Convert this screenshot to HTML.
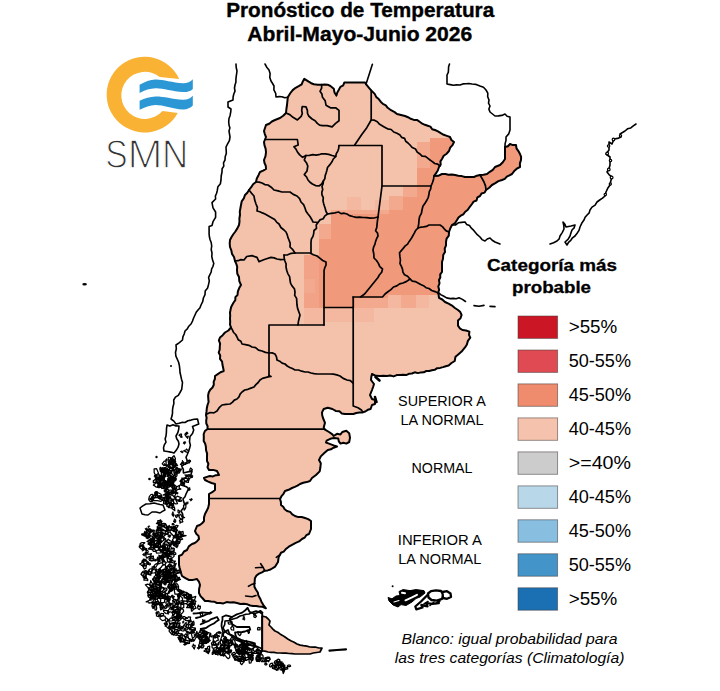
<!DOCTYPE html>
<html><head><meta charset="utf-8"><title>Pronóstico de Temperatura</title>
<style>html,body{margin:0;padding:0;background:#fff}body{width:720px;height:691px;overflow:hidden;font-family:"Liberation Sans",sans-serif}svg{display:block;font-family:"Liberation Sans",sans-serif}</style></head>
<body>
<svg width="720" height="691" viewBox="0 0 720 691">
<rect width="720" height="691" fill="#fff"/>
<defs><clipPath id="ac"><path d="M287.8,97.3 L290.4,93.0 L292.7,90.1 L295.6,87.8 L298.7,86.1 L301.7,84.3 L302.8,81.4 L304.3,78.8 L308.7,81.7 L311.2,83.2 L313.9,84.3 L317.8,84.7 L321.7,84.7 L324.7,84.4 L327.6,84.7 L330.4,86.0 L333.8,88.7 L334.5,92.4 L336.4,95.6 L337.3,92.4 L339.0,89.5 L340.4,86.9 L343.2,85.4 L344.3,82.6 L365.1,82.6 L366.8,85.2 L369.0,87.8 L371.2,90.4 L374.7,93.9 L376.2,96.9 L378.7,99.1 L380.7,101.7 L382.9,103.9 L385.8,105.3 L387.7,107.8 L391.0,110.2 L394.6,112.1 L397.0,114.0 L400.0,114.7 L405.0,116.0 L408.0,117.2 L410.8,118.8 L413.9,119.9 L417.3,120.1 L420.0,122.0 L422.3,123.7 L424.9,124.8 L427.7,125.7 L430.4,126.6 L432.2,129.2 L435.0,130.0 L438.0,131.4 L440.8,133.2 L443.7,134.8 L446.8,135.9 L450.0,137.0 L451.4,140.0 L454.0,142.0 L452.5,145.1 L450.2,147.7 L449.0,151.0 L446.7,153.7 L443.7,155.8 L442.0,159.0 L440.4,161.4 L440.7,164.6 L439.0,167.0 L437.9,170.3 L436.1,173.2 L434.0,176.0 L438.2,175.8 L442.0,174.0 L445.3,174.1 L448.5,174.7 L451.8,174.4 L455.0,175.0 L458.3,175.7 L461.7,176.1 L465.0,177.0 L474.0,177.0 L476.9,175.7 L480.0,175.0 L483.5,174.7 L487.0,174.0 L489.8,171.8 L492.8,169.9 L495.0,167.0 L500.0,165.0 L502.8,162.2 L505.0,159.0 L505.0,147.0 L507.9,146.2 L510.0,144.0 L512.9,145.1 L516.0,145.0 L516.5,148.4 L518.4,151.1 L520.0,154.0 L521.1,156.9 L521.0,160.0 L519.9,163.4 L520.0,167.0 L516.8,168.7 L514.2,171.1 L512.0,174.0 L509.4,175.4 L506.8,176.7 L504.8,178.9 L502.0,180.0 L498.4,181.1 L495.3,183.2 L492.0,185.0 L489.2,187.8 L486.0,190.0 L484.6,192.6 L481.5,193.5 L480.0,196.0 L477.4,197.4 L476.5,200.5 L473.6,201.6 L472.0,204.0 L469.8,206.8 L467.8,209.7 L465.0,212.0 L463.3,214.3 L460.7,215.7 L458.5,217.5 L457.0,220.0 L455.1,223.1 L452.0,225.0 L450.3,228.4 L449.0,232.0 L448.8,235.6 L446.6,238.6 L446.0,242.0 L446.0,245.4 L444.7,248.6 L445.0,252.0 L443.2,255.1 L443.0,258.7 L442.0,262.0 L442.0,272.0 L440.2,274.4 L440.3,277.5 L439.0,280.0 L439.5,283.3 L438.3,286.5 L439.1,289.8 L438.0,293.0 L438.5,294.0 L439.0,297.8 L442.3,299.5 L445.0,302.0 L448.6,303.7 L452.0,305.6 L454.9,308.0 L458.0,310.0 L460.3,312.1 L461.6,315.0 L460.5,318.2 L458.0,320.4 L458.0,325.6 L459.8,328.3 L462.5,330.0 L466.0,330.5 L469.4,331.6 L469.0,334.8 L470.3,337.7 L467.9,340.9 L466.8,344.7 L465.2,347.1 L463.4,349.3 L461.6,351.6 L458.5,354.2 L455.5,356.8 L454.7,361.0 L451.5,363.0 L448.6,365.5 L445.8,366.2 L443.0,367.1 L440.2,367.9 L437.2,368.2 L434.7,369.8 L431.9,370.3 L429.2,371.0 L426.3,371.0 L423.7,372.3 L420.8,372.4 L417.9,373.1 L414.8,372.3 L411.9,373.5 L408.9,373.8 L406.1,375.1 L403.0,374.8 L400.0,375.0 L396.7,375.1 L393.6,376.4 L390.2,375.5 L387.0,376.0 L383.5,375.8 L380.0,376.0 L375.8,375.8 L372.0,374.0 L371.3,377.0 L371.0,380.0 L374.0,384.0 L373.1,387.0 L372.0,390.0 L370.0,395.0 L372.0,399.0 L375.0,400.0 L375.0,404.0 L372.0,405.0 L370.6,409.0 L367.8,409.8 L365.3,411.5 L362.5,412.4 L359.4,412.6 L356.3,413.0 L353.3,414.0 L345.0,414.0 L341.8,413.4 L339.4,411.2 L335.7,410.9 L332.4,409.0 L327.8,407.7 L323.7,409.0 L322.0,412.4 L322.2,415.3 L323.0,418.0 L325.0,422.8 L323.7,427.4 L325.0,429.7 L329.0,432.0 L332.4,434.4 L333.6,436.0 L337.0,433.8 L340.5,434.4 L342.3,432.0 L346.3,430.7 L349.2,433.2 L350.0,437.8 L349.2,442.0 L346.3,443.6 L343.4,442.8 L340.5,443.6 L338.8,441.3 L338.2,438.4 L334.0,438.0 L331.3,438.4 L326.6,440.7 L326.0,442.5 L329.0,443.6 L333.6,445.4 L337.0,446.5 L333.6,447.7 L330.9,449.3 L327.8,450.0 L324.3,453.0 L320.8,456.4 L319.0,460.0 L320.8,463.3 L320.3,468.0 L319.7,471.4 L316.0,475.0 L312.0,478.0 L310.0,481.0 L306.7,482.1 L303.3,482.8 L300.0,484.0 L297.5,485.6 L294.8,486.9 L292.0,488.0 L288.6,489.8 L285.0,491.0 L283.5,493.8 L281.5,496.2 L280.0,499.0 L280.9,501.9 L281.0,505.0 L283.2,506.8 L284.7,509.3 L287.0,511.0 L290.1,511.9 L292.3,514.4 L295.0,516.0 L298.3,517.1 L301.7,517.0 L305.0,518.0 L308.2,519.1 L311.0,521.0 L311.0,529.0 L309.0,534.0 L306.3,535.2 L304.6,537.7 L302.0,539.0 L299.1,541.4 L295.7,542.8 L292.5,544.6 L288.8,546.7 L285.6,549.3 L283.7,551.6 L281.0,552.7 L278.6,557.4 L278.0,562.0 L275.2,566.6 L270.5,569.5 L267.7,570.4 L264.7,570.7 L262.0,572.4 L259.0,573.6 L256.5,575.5 L254.9,578.2 L254.7,581.1 L254.3,584.0 L254.5,587.1 L256.0,589.8 L257.8,592.5 L258.4,595.6 L260.1,598.4 L261.3,601.4 L263.4,605.0 L265.9,608.3 L262.6,606.8 L259.0,606.6 L256.1,606.1 L253.1,605.9 L250.2,605.5 L247.4,604.3 L243.9,603.8 L240.4,604.0 L237.0,603.0 L233.5,602.2 L230.0,602.5 L226.6,602.1 L223.4,603.4 L220.0,603.0 L216.9,603.0 L214.1,601.7 L211.0,601.5 L208.1,600.9 L205.0,601.0 L202.8,598.5 L200.5,596.1 L199.0,593.0 L199.1,589.0 L200.0,585.0 L199.0,581.8 L197.0,579.0 L193.1,579.9 L189.0,580.0 L185.4,578.2 L182.0,576.0 L181.1,573.3 L180.4,570.5 L179.6,567.8 L179.0,565.0 L179.0,556.0 L182.1,554.6 L184.0,551.5 L187.0,550.0 L188.8,546.4 L192.0,544.0 L194.8,543.0 L197.1,541.2 L199.0,539.0 L198.5,535.9 L196.2,533.7 L195.0,531.0 L197.0,526.0 L199.8,525.0 L202.1,523.3 L204.0,521.0 L204.0,517.4 L205.0,514.0 L206.7,510.8 L208.2,507.6 L209.0,504.0 L209.0,494.0 L212.2,492.2 L215.0,490.0 L215.0,487.0 L215.0,484.0 L211.5,483.0 L208.2,481.6 L205.0,480.0 L204.0,478.0 L206.9,476.9 L209.8,476.0 L213.0,476.4 L215.9,475.2 L219.0,475.0 L217.0,471.0 L213.1,469.9 L209.0,470.0 L207.5,467.2 L208.4,463.8 L207.0,461.0 L207.0,457.3 L207.1,453.6 L206.0,450.0 L205.9,446.8 L205.2,443.8 L203.7,441.0 L203.8,437.5 L203.7,434.0 L204.9,431.0 L207.5,429.0 L207.6,426.2 L206.3,423.5 L206.2,420.6 L206.6,417.8 L206.0,415.0 L206.5,411.7 L206.8,408.3 L207.5,405.0 L208.6,402.0 L208.3,398.8 L208.1,395.6 L208.7,392.5 L210.2,389.7 L212.5,387.5 L213.8,384.8 L213.7,381.7 L214.9,379.0 L215.0,376.0 L217.8,374.1 L220.5,372.2 L223.7,371.0 L223.2,368.0 L222.5,365.0 L222.1,361.7 L220.0,358.9 L220.2,355.5 L218.7,352.5 L219.7,349.6 L219.8,346.5 L220.1,343.6 L218.9,340.4 L220.0,337.5 L222.7,335.2 L225.0,332.5 L228.4,330.5 L231.0,327.5 L230.0,324.6 L230.2,321.5 L230.0,318.5 L230.2,315.5 L230.0,312.5 L231.0,307.5 L232.2,304.9 L233.6,302.5 L235.3,300.2 L235.4,297.1 L237.5,295.0 L237.9,291.4 L239.2,288.1 L241.0,285.0 L239.3,281.2 L239.0,277.0 L237.3,273.7 L237.0,270.0 L237.2,266.8 L236.3,263.9 L235.0,261.0 L234.0,257.0 L232.0,253.9 L231.3,250.3 L230.0,247.0 L229.7,243.5 L230.0,240.0 L231.4,237.2 L233.1,234.5 L235.0,232.0 L237.2,228.6 L239.0,225.0 L239.5,221.7 L239.4,218.3 L240.0,215.0 L239.8,211.6 L240.4,208.3 L241.0,205.0 L241.7,201.4 L243.8,198.4 L245.0,195.0 L247.3,192.7 L249.0,190.0 L251.2,187.2 L253.1,184.2 L256.0,182.0 L256.8,178.5 L258.5,175.2 L260.0,172.0 L263.1,170.7 L266.0,169.0 L265.8,165.9 L264.5,163.0 L264.0,160.0 L265.5,156.1 L266.0,152.0 L265.6,148.6 L264.5,145.4 L264.0,142.0 L266.0,137.0 L264.8,134.1 L264.0,131.0 L265.0,128.0 L266.0,125.0 L269.2,123.7 L271.9,121.5 L275.0,120.0 L280.0,118.0 L283.2,115.8 L286.0,113.0 L286.4,109.0 L287.0,105.0Z"/><path d="M262.0,616.0 L266.0,617.0 L268.1,618.9 L270.0,621.0 L269.0,625.0 L271.0,627.0 L272.9,629.1 L275.0,631.0 L277.7,632.2 L280.0,633.9 L282.5,635.4 L285.0,637.0 L287.8,639.0 L290.8,640.8 L294.1,642.2 L297.0,644.0 L300.2,645.1 L303.4,645.7 L306.8,646.1 L310.0,647.0 L313.0,647.2 L316.0,647.2 L319.0,648.0 L322.0,648.0 L320.0,652.0 L316.6,652.5 L313.3,653.0 L310.0,654.0 L295.0,654.0 L292.0,653.6 L289.0,653.5 L286.0,653.2 L283.0,653.1 L280.0,653.0 L277.0,653.0 L274.0,652.3 L271.0,652.4 L268.0,652.0 L265.0,651.1 L262.0,651.0Z"/></clipPath></defs>
<g clip-path="url(#ac)" shape-rendering="crispEdges">
<rect x="150" y="60" width="400" height="620" fill="#f4c2aa"/>
<path d="M318.5,238.7 L331.0,238.7 L331.0,213.5 L388.5,213.5 L388.5,209.5 L402.5,209.5 L402.5,186.0 L416.5,186.0 L416.5,168.0 L430.0,168.0 L430.0,137.5 L530.0,137.5 L530.0,294.5 L388.0,294.5 L388.0,297.5 L355.0,297.5 L355.0,307.7 L318.5,307.7Z" fill="#f19a7b"/>
<rect x="416.5" y="141.5" width="13.5" height="26.5" fill="#f3a98e"/>
<rect x="402.5" y="186.0" width="14.0" height="10.5" fill="#f3a98e"/>
<rect x="388.5" y="195.5" width="14.0" height="14.0" fill="#f3a98e"/>
<rect x="374.5" y="200.0" width="14.0" height="13.5" fill="#f4b7a0"/>
<rect x="318.5" y="223.5" width="12.5" height="15.2" fill="#f3a98e"/>
<rect x="331.0" y="209.5" width="57.5" height="4.0" fill="#f3a98e"/>
<rect x="304.0" y="255.0" width="14.5" height="52.7" fill="#f2a286"/>
<rect x="304.0" y="307.7" width="19.5" height="16.3" fill="#f4b7a0"/>
<rect x="304.0" y="279.0" width="11.0" height="14.0" fill="#f3a98e"/>
<rect x="355.0" y="297.5" width="33.0" height="10.2" fill="#f3a98e"/>
<rect x="388.0" y="294.5" width="41.0" height="13.2" fill="#f4b7a0"/>
<rect x="401.0" y="294.5" width="14.5" height="13.2" fill="#f3a98e"/>
<rect x="346.6" y="197.0" width="14.1" height="13.0" fill="#f4b7a0"/>
<rect x="355.0" y="307.7" width="19.0" height="13.8" fill="#f4b7a0"/>
<rect x="325.0" y="307.7" width="28.0" height="13.8" fill="#f4b7a0"/>
</g>
<g fill="none" stroke="#000" stroke-width="1.7" stroke-linejoin="round" stroke-linecap="round">
<path d="M321.7,84.7 L321.6,88.2 L320.0,91.3 L321.9,94.0 L322.5,97.3 L325.2,100.8 L326.0,105.2 L330.4,107.8 L335.6,107.8 L339.0,110.4 L339.0,120.8 L335.6,123.4 L332.1,126.9 L327.0,125.6 L322.5,125.6 L319.6,125.2 L317.3,123.4 L315.1,120.7 L312.1,119.0 L308.7,116.0 L307.5,113.3 L307.4,110.4 L306.0,106.9 L302.2,106.5 L301.7,110.4 L302.3,113.5 L301.2,116.4 L297.4,119.9 L293.0,117.3 L289.8,114.6 L286.0,113.0"/>
<path d="M371.2,90.4 L371.2,120.0 L366.8,127.7 L361.6,134.7 L354.7,145.0"/>
<path d="M371.2,120.0 L374.4,120.2 L377.3,121.7 L379.2,123.9 L381.7,125.4 L384.2,126.9 L387.5,128.8 L391.2,129.5 L393.7,132.0 L397.0,133.3 L400.0,135.0 L401.6,137.4 L404.6,138.4 L405.7,141.3 L408.0,143.0 L410.0,145.0 L412.2,147.5 L415.5,149.0 L417.2,152.1 L420.0,154.0 L422.1,156.2 L425.4,156.3 L427.7,158.2 L430.0,160.0 L432.4,161.6 L434.7,163.5 L437.7,164.1 L440.0,166.0"/>
<path d="M339.0,145.5 L382.0,145.5 L382.0,186.0 L378.0,217.0"/>
<path d="M339.0,145.5 L338.7,148.4 L337.8,151.1 L336.3,153.7 L335.7,156.5 L333.3,159.0 L331.8,162.1 L329.7,164.9 L327.5,167.5 L326.9,170.3 L326.1,173.0 L325.2,175.6 L324.9,178.5 L323.4,181.0 L323.1,183.8 L322.0,186.5 L322.7,189.4 L321.8,192.2 L322.0,195.0 L323.3,197.6 L323.0,200.6 L323.6,203.4 L324.4,206.1 L325.3,208.8 L326.0,211.5 L327.5,214.0 L331.2,213.3 L334.9,212.9 L338.5,212.0 L341.0,213.6 L344.2,213.2 L347.0,214.0 L349.5,215.6 L352.8,216.5 L356.1,217.3 L359.6,217.1 L363.0,217.5 L366.7,217.6 L370.3,218.2 L374.0,218.0 L378.0,217.0"/>
<path d="M382.0,186.0 L431.0,186.0"/>
<path d="M434.0,176.0 L433.5,179.5 L432.4,182.8 L431.0,186.0 L430.7,188.9 L429.3,191.6 L428.9,194.5 L428.3,197.3 L427.0,200.0 L425.0,203.2 L422.9,206.3 L422.0,210.0 L421.4,213.4 L419.6,216.6 L419.0,220.0 L418.7,224.0 L418.0,228.0 L415.7,230.3 L414.3,233.2 L412.7,236.0 L411.1,238.8 L409.2,241.4 L407.6,244.1 L405.0,246.1 L403.0,248.6 L399.5,252.7 L399.9,256.4 L400.4,260.0 L400.0,263.7 L401.4,266.4 L402.5,269.1 L402.9,272.1 L404.5,274.7 L407.6,276.3 L410.0,279.0 L412.3,281.1 L415.3,281.6 L418.0,283.0 L420.7,284.5 L423.5,285.7 L426.0,287.7 L429.0,288.5 L431.7,290.5 L435.0,291.6 L438.0,293.0"/>
<path d="M418.0,228.0 L420.7,227.2 L423.6,226.9 L426.4,226.4 L429.0,225.0 L440.0,225.0 L442.4,226.6 L444.2,228.8 L446.2,230.9 L449.0,232.0"/>
<path d="M480.0,175.0 L482.1,178.5 L484.0,182.0 L485.5,185.9 L486.0,190.0"/>
<path d="M266.0,139.5 L297.4,139.5 L298.2,145.0 L293.9,146.8 L296.0,149.1 L297.4,152.0 L299.7,154.9 L302.6,157.3 L306.0,155.5 L309.5,155.4 L313.0,154.7 L316.0,155.2 L318.9,154.7 L321.7,153.8 L325.2,153.9 L328.7,154.4 L332.1,155.5 L335.7,156.5"/>
<path d="M306.0,155.5 L304.3,159.9 L306.4,162.7 L307.8,166.0 L307.0,171.0 L304.3,174.6 L306.6,177.0 L308.0,180.0 L310.0,182.3 L312.4,184.0 L315.5,185.6 L319.0,186.0 L321.7,184.0 L323.4,181.0"/>
<path d="M256.0,182.0 L259.1,182.1 L262.0,183.0 L264.8,184.6 L268.0,185.0 L271.2,187.2 L274.0,190.0 L278.0,190.9 L282.0,192.0 L290.0,192.0 L293.3,194.4 L297.0,196.0 L299.6,198.6 L301.0,202.0 L303.6,204.6 L305.0,208.0 L306.0,211.3 L308.0,214.0 L310.0,216.5 L311.6,219.2 L313.0,222.0 L318.0,222.5"/>
<path d="M249.0,190.0 L251.4,193.1 L254.0,196.0 L254.7,200.1 L256.0,204.0 L257.4,207.4 L257.0,211.0 L259.8,211.7 L262.4,212.9 L265.0,214.0 L268.5,216.0 L272.0,218.0 L274.7,219.6 L276.6,222.1 L279.0,224.0 L280.9,227.5 L284.0,230.0 L286.0,232.0 L287.2,234.6 L287.9,237.4 L289.0,240.0 L290.2,243.4 L290.0,247.0 L292.8,249.7 L295.0,253.0"/>
<path d="M327.5,214.0 L324.9,215.9 L323.2,218.8 L319.9,219.9 L318.0,222.5 L316.2,225.0 L316.5,228.3 L314.0,230.5 L313.7,233.5 L313.0,236.4 L311.4,239.0 L311.0,242.0 L311.0,253.0"/>
<path d="M284.0,255.0 L287.7,254.8 L291.3,253.3 L295.0,253.0 L310.0,253.0 L313.4,254.8 L317.0,256.0 L319.8,258.2 L322.7,260.5 L326.0,262.0 L326.0,265.1 L324.7,267.9 L324.0,270.9 L324.1,274.0 L324.0,277.0 L324.0,325.0"/>
<path d="M235.0,261.0 L238.0,260.7 L240.9,259.6 L244.0,260.0 L246.7,256.5 L252.0,255.6 L257.0,257.4 L259.0,261.7 L262.4,260.3 L265.8,259.0 L271.0,257.4 L274.1,257.9 L277.0,259.0 L280.5,259.6 L284.0,259.5"/>
<path d="M284.0,255.0 L284.2,258.1 L284.9,261.0 L286.1,263.9 L286.0,267.0 L286.7,270.3 L287.8,273.6 L289.6,276.6 L290.0,280.0 L290.6,283.3 L292.2,286.1 L294.4,288.7 L295.0,292.0 L294.7,295.4 L296.6,298.4 L296.8,301.7 L297.0,305.0 L297.6,308.4 L298.8,311.7 L300.0,315.0 L299.2,318.3 L298.4,321.6 L298.0,325.0"/>
<path d="M324.0,307.5 L353.0,307.5"/>
<path d="M378.0,217.0 L377.5,220.4 L377.1,223.9 L376.8,227.4 L375.6,230.7 L377.5,233.0 L378.0,236.0 L376.6,238.7 L375.6,241.4 L374.9,244.4 L373.6,247.1 L373.0,250.0 L373.8,254.0 L374.0,258.0 L376.5,260.5 L378.4,263.4 L379.8,266.7 L382.5,269.0 L381.7,272.2 L379.5,274.7 L378.0,277.5 L364.6,294.0 L360.5,297.0 L353.0,297.0"/>
<path d="M410.0,279.0 L406.7,281.4 L403.0,283.0 L399.6,283.9 L396.8,285.9 L393.5,287.0 L390.9,289.6 L387.9,291.8 L385.0,294.0 L382.5,297.0 L360.5,297.0"/>
<path d="M353.2,297.0 L353.2,406.0 L358.0,407.7 L361.4,410.0 L363.0,412.4"/>
<path d="M324.0,325.0 L269.0,325.0 L269.0,375.5"/>
<path d="M231.0,327.5 L232.4,329.9 L233.6,332.5 L235.7,334.5 L237.0,337.0 L238.2,339.7 L240.9,341.3 L242.0,344.0 L245.5,344.6 L248.9,345.3 L252.0,347.0 L255.6,347.7 L258.5,350.1 L262.0,351.0 L265.4,352.4 L269.0,353.0 L272.1,352.9 L275.0,354.0 L276.5,356.8 L277.0,360.0 L279.7,361.2 L282.1,363.1 L285.0,364.0 L287.2,366.0 L289.8,367.4 L292.4,368.6 L295.0,370.0 L298.5,370.0 L301.7,371.2 L305.0,372.0 L308.1,372.0 L311.0,373.0 L314.0,373.6 L317.0,374.0 L330.0,374.0 L333.4,374.1 L336.8,374.9 L340.0,376.0 L343.2,378.4 L347.0,380.0 L350.4,380.7 L353.0,383.0"/>
<path d="M269.0,375.5 L271.0,376.5 L268.1,376.9 L265.3,377.6 L262.5,378.4 L260.0,380.0 L258.2,382.5 L255.9,384.6 L254.0,387.0 L250.9,388.1 L247.9,389.3 L244.7,390.0 L242.0,392.0 L240.1,394.1 L239.0,396.9 L237.0,399.0 L234.3,400.1 L232.3,402.4 L230.0,404.0 L226.0,404.3 L222.0,405.0 L219.2,407.7 L217.0,411.0 L213.9,412.9 L210.2,412.5 L207.0,414.0"/>
<path d="M207.5,429.2 L324.5,429.2"/>
<path d="M209.0,498.5 L280.0,498.5"/>
<path d="M262.3,614.0 L262.3,651.0"/>
</g>
<g fill="none" stroke="#000" stroke-width="1.6" stroke-linejoin="round" stroke-linecap="round">
<path d="M236.0,64.0 L236.2,67.5 L237.0,71.0 L236.6,73.8 L236.2,76.6 L235.9,79.4 L235.9,82.3 L235.0,85.0 L234.5,88.0 L235.0,91.1 L233.8,94.0 L233.1,97.0 L233.0,100.0 L228.0,102.0 L228.0,107.0 L231.0,109.0 L230.7,112.2 L230.1,115.4 L229.0,118.5 L228.7,121.7 L229.0,125.0 L229.9,127.9 L229.0,131.0 L229.5,134.0 L230.0,137.0 L229.4,140.6 L227.6,143.8 L226.0,147.0 L226.2,150.3 L226.3,153.6 L225.2,156.7 L225.0,160.0 L223.5,162.8 L223.8,166.1 L222.1,168.8 L222.0,172.0 L221.2,176.0 L221.0,180.0 L220.4,183.7 L217.9,186.7 L217.3,190.4 L216.6,193.2 L215.4,196.0 L215.6,199.0 L212.0,202.6 L213.0,207.8 L215.6,212.0 L215.6,217.3 L213.0,221.7 L212.0,225.5 L209.1,226.5 L209.1,233.8 L209.4,236.8 L210.1,239.7 L211.2,242.5 L211.7,246.0 L211.2,249.5 L212.0,253.0 L211.8,256.6 L212.6,260.0 L213.8,263.4 L213.0,266.3 L211.6,269.0 L211.2,272.0 L209.9,274.7 L208.6,277.3 L209.3,280.8 L208.6,284.2 L207.6,288.0 L205.2,291.0 L205.0,294.7 L203.4,298.0 L202.7,301.7 L201.0,305.0 L200.0,307.8 L198.0,310.0 L196.2,312.3 L195.0,315.0 L193.6,318.0 L192.5,321.1 L191.0,324.0 L188.8,326.2 L187.3,328.9 L185.0,331.0 L184.2,334.0 L182.9,336.9 L182.5,340.0 L179.4,342.6 L176.0,345.0 L176.3,348.8 L175.5,352.5 L175.9,356.1 L177.3,359.3 L178.7,362.5 L179.4,365.8 L179.8,369.1 L180.0,372.5 L180.8,375.8 L181.5,379.2 L182.5,382.5 L182.1,386.0 L181.7,389.4 L180.0,392.5 L178.3,395.3 L175.4,397.2 L173.7,400.0 L173.9,403.4 L173.0,406.7 L172.5,410.0 L172.5,413.1 L172.0,416.1 L171.0,419.0 L173.9,421.1 L176.0,424.0 L179.0,423.3 L181.9,422.4 L185.0,422.5 L187.9,420.8 L191.1,420.1 L194.2,419.3 L197.5,419.0 L198.7,424.0 L195.6,425.3 L192.5,426.5 L193.7,430.0 L192.5,433.6 L190.0,436.5 L189.5,441.7 L190.4,445.1 L189.5,448.6 L188.4,451.5 L187.3,454.5 L186.0,457.3 L187.8,462.5 L184.6,463.9 L181.7,466.0 L183.3,469.3 L183.4,473.0 L186.2,472.2 L189.1,471.6 L192.0,471.2 L190.4,476.4 L187.8,478.4 L184.3,478.0 L181.7,480.0 L180.8,485.0 L183.6,485.7 L186.3,486.7 L188.6,488.6 L187.3,491.3 L186.0,494.0 L185.0,496.8 L183.0,499.0 L183.8,502.1 L185.0,505.0 L183.2,508.2 L181.0,511.0 L182.6,513.8 L183.0,517.0 L182.2,520.4 L180.0,523.0"/>
<path d="M265.0,64.0 L266.7,67.2 L269.0,70.0 L270.1,73.6 L269.8,77.4 L271.0,81.0 L272.6,83.5 L274.0,86.0 L273.9,89.8 L275.7,93.3 L276.0,97.0 L279.0,96.6 L281.9,96.7 L284.8,97.8 L287.8,97.3"/>
<path d="M372.4,64.3 L366.0,84.3"/>
<path d="M449.5,64.0 L448.6,66.7 L448.5,69.6 L448.3,72.4 L447.0,75.0 L447.0,84.0 L450.2,84.6 L453.4,85.3 L456.7,84.9 L460.0,85.0 L462.9,83.9 L465.9,83.7 L468.9,83.5 L472.0,84.0 L476.1,84.4 L480.0,86.0 L483.5,87.3 L486.0,90.0 L487.8,93.1 L487.7,96.7 L489.0,100.0 L488.5,103.1 L490.0,106.0 L488.9,109.1 L490.0,112.0 L492.5,114.0 L495.0,116.0 L498.4,115.9 L501.8,115.4 L505.0,114.0 L507.1,116.2 L510.0,117.0 L510.0,130.0 L508.7,133.9 L506.0,137.0 L506.0,140.4 L505.1,143.6 L505.0,147.0"/>
<path d="M452.0,225.0 L455.4,225.0 L458.3,222.8 L461.7,222.4 L465.0,222.0 L466.6,224.4 L469.5,225.5 L471.1,227.9 L473.2,229.8 L475.0,232.0 L477.3,234.7 L480.0,237.0 L482.0,239.6 L485.0,241.0 L487.2,239.0 L490.0,238.0 L492.2,240.3 L495.0,242.0 L500.0,244.0"/>
<path d="M438.5,292.6 L440.7,294.6 L443.4,296.0 L446.6,297.9 L450.3,298.6 L453.2,298.4 L456.2,298.8 L459.0,297.8 L462.4,299.4 L465.5,301.5"/>
<path d="M474.0,305.6 L479.0,306.2 L484.0,305.4"/>
<path d="M490.0,306.4 L495.0,306.6"/>
<path d="M636.0,124.0 L633.3,125.9 L630.8,127.9 L627.5,128.8 L625.0,131.0 L622.5,132.5 L620.0,134.0 L621.0,137.0 L617.6,138.4 L614.0,139.0 L612.0,144.0 L609.0,142.0 L609.0,150.0 L606.0,154.0 L610.0,157.0 L610.0,165.0 L609.0,168.7 L607.0,172.0 L609.2,174.8 L612.0,177.0 L610.8,181.0 L610.0,185.0 L607.7,188.3 L606.0,192.0 L605.0,196.0 L602.5,198.2 L599.7,200.0 L597.0,202.0 L595.1,205.1 L592.0,207.1 L590.0,210.0 L589.2,212.9 L587.1,215.0 L585.1,217.3 L584.0,220.0 L581.7,223.3 L580.0,227.0 L579.0,230.4 L577.1,233.2 L575.0,236.0 L572.5,237.8 L570.8,240.3 L568.5,242.3 L567.0,245.0 L565.0,242.0 L568.0,239.4 L570.0,236.0 L570.9,233.0 L572.0,230.0 L574.1,227.9 L575.0,225.0 L571.0,226.0 L566.0,227.0 L564.9,224.3 L563.0,222.0 L563.8,225.5 L564.0,229.0 L562.2,232.6 L560.0,236.0 L559.2,238.9 L557.0,241.0 L553.6,242.7 L550.0,244.0"/>
<path d="M167.0,425.0 L169.9,426.1 L173.1,424.8 L176.0,425.9 L179.0,426.0 L178.7,429.5 L177.7,432.9 L176.0,436.0 L176.7,438.8 L178.4,441.2 L179.0,444.0 L178.0,447.4 L176.2,450.3 L174.0,453.0 L170.7,452.1 L167.4,451.5 L164.0,451.0 L163.5,447.9 L164.3,444.9 L166.0,442.1 L165.1,438.9 L166.0,436.0 L166.4,432.3 L166.5,428.7 L167.0,425.0"/>
<path d="M262.3,614.0 L259.4,612.0 L256.0,611.0 L252.4,612.3 L249.0,614.0 L245.9,614.2 L243.0,615.3 L240.0,616.0 L236.7,618.0 L233.0,619.0 L229.1,620.6 L225.0,621.0 L224.7,624.7 L223.0,628.0 L225.0,631.4 L228.0,634.0 L231.0,634.7 L233.7,635.9 L236.0,638.0 L239.0,640.1 L242.9,640.2 L246.0,642.0 L249.1,644.0 L252.9,644.0 L256.0,646.0 L259.2,647.4 L262.3,649.0"/>
</g>
<path d="M287.8,97.3 L290.4,93.0 L292.7,90.1 L295.6,87.8 L298.7,86.1 L301.7,84.3 L302.8,81.4 L304.3,78.8 L308.7,81.7 L311.2,83.2 L313.9,84.3 L317.8,84.7 L321.7,84.7 L324.7,84.4 L327.6,84.7 L330.4,86.0 L333.8,88.7 L334.5,92.4 L336.4,95.6 L337.3,92.4 L339.0,89.5 L340.4,86.9 L343.2,85.4 L344.3,82.6 L365.1,82.6 L366.8,85.2 L369.0,87.8 L371.2,90.4 L374.7,93.9 L376.2,96.9 L378.7,99.1 L380.7,101.7 L382.9,103.9 L385.8,105.3 L387.7,107.8 L391.0,110.2 L394.6,112.1 L397.0,114.0 L400.0,114.7 L405.0,116.0 L408.0,117.2 L410.8,118.8 L413.9,119.9 L417.3,120.1 L420.0,122.0 L422.3,123.7 L424.9,124.8 L427.7,125.7 L430.4,126.6 L432.2,129.2 L435.0,130.0 L438.0,131.4 L440.8,133.2 L443.7,134.8 L446.8,135.9 L450.0,137.0 L451.4,140.0 L454.0,142.0 L452.5,145.1 L450.2,147.7 L449.0,151.0 L446.7,153.7 L443.7,155.8 L442.0,159.0 L440.4,161.4 L440.7,164.6 L439.0,167.0 L437.9,170.3 L436.1,173.2 L434.0,176.0 L438.2,175.8 L442.0,174.0 L445.3,174.1 L448.5,174.7 L451.8,174.4 L455.0,175.0 L458.3,175.7 L461.7,176.1 L465.0,177.0 L474.0,177.0 L476.9,175.7 L480.0,175.0 L483.5,174.7 L487.0,174.0 L489.8,171.8 L492.8,169.9 L495.0,167.0 L500.0,165.0 L502.8,162.2 L505.0,159.0 L505.0,147.0 L507.9,146.2 L510.0,144.0 L512.9,145.1 L516.0,145.0 L516.5,148.4 L518.4,151.1 L520.0,154.0 L521.1,156.9 L521.0,160.0 L519.9,163.4 L520.0,167.0 L516.8,168.7 L514.2,171.1 L512.0,174.0 L509.4,175.4 L506.8,176.7 L504.8,178.9 L502.0,180.0 L498.4,181.1 L495.3,183.2 L492.0,185.0 L489.2,187.8 L486.0,190.0 L484.6,192.6 L481.5,193.5 L480.0,196.0 L477.4,197.4 L476.5,200.5 L473.6,201.6 L472.0,204.0 L469.8,206.8 L467.8,209.7 L465.0,212.0 L463.3,214.3 L460.7,215.7 L458.5,217.5 L457.0,220.0 L455.1,223.1 L452.0,225.0 L450.3,228.4 L449.0,232.0 L448.8,235.6 L446.6,238.6 L446.0,242.0 L446.0,245.4 L444.7,248.6 L445.0,252.0 L443.2,255.1 L443.0,258.7 L442.0,262.0 L442.0,272.0 L440.2,274.4 L440.3,277.5 L439.0,280.0 L439.5,283.3 L438.3,286.5 L439.1,289.8 L438.0,293.0 L438.5,294.0 L439.0,297.8 L442.3,299.5 L445.0,302.0 L448.6,303.7 L452.0,305.6 L454.9,308.0 L458.0,310.0 L460.3,312.1 L461.6,315.0 L460.5,318.2 L458.0,320.4 L458.0,325.6 L459.8,328.3 L462.5,330.0 L466.0,330.5 L469.4,331.6 L469.0,334.8 L470.3,337.7 L467.9,340.9 L466.8,344.7 L465.2,347.1 L463.4,349.3 L461.6,351.6 L458.5,354.2 L455.5,356.8 L454.7,361.0 L451.5,363.0 L448.6,365.5 L445.8,366.2 L443.0,367.1 L440.2,367.9 L437.2,368.2 L434.7,369.8 L431.9,370.3 L429.2,371.0 L426.3,371.0 L423.7,372.3 L420.8,372.4 L417.9,373.1 L414.8,372.3 L411.9,373.5 L408.9,373.8 L406.1,375.1 L403.0,374.8 L400.0,375.0 L396.7,375.1 L393.6,376.4 L390.2,375.5 L387.0,376.0 L383.5,375.8 L380.0,376.0 L375.8,375.8 L372.0,374.0 L371.3,377.0 L371.0,380.0 L374.0,384.0 L373.1,387.0 L372.0,390.0 L370.0,395.0 L372.0,399.0 L375.0,400.0 L375.0,404.0 L372.0,405.0 L370.6,409.0 L367.8,409.8 L365.3,411.5 L362.5,412.4 L359.4,412.6 L356.3,413.0 L353.3,414.0 L345.0,414.0 L341.8,413.4 L339.4,411.2 L335.7,410.9 L332.4,409.0 L327.8,407.7 L323.7,409.0 L322.0,412.4 L322.2,415.3 L323.0,418.0 L325.0,422.8 L323.7,427.4 L325.0,429.7 L329.0,432.0 L332.4,434.4 L333.6,436.0 L337.0,433.8 L340.5,434.4 L342.3,432.0 L346.3,430.7 L349.2,433.2 L350.0,437.8 L349.2,442.0 L346.3,443.6 L343.4,442.8 L340.5,443.6 L338.8,441.3 L338.2,438.4 L334.0,438.0 L331.3,438.4 L326.6,440.7 L326.0,442.5 L329.0,443.6 L333.6,445.4 L337.0,446.5 L333.6,447.7 L330.9,449.3 L327.8,450.0 L324.3,453.0 L320.8,456.4 L319.0,460.0 L320.8,463.3 L320.3,468.0 L319.7,471.4 L316.0,475.0 L312.0,478.0 L310.0,481.0 L306.7,482.1 L303.3,482.8 L300.0,484.0 L297.5,485.6 L294.8,486.9 L292.0,488.0 L288.6,489.8 L285.0,491.0 L283.5,493.8 L281.5,496.2 L280.0,499.0 L280.9,501.9 L281.0,505.0 L283.2,506.8 L284.7,509.3 L287.0,511.0 L290.1,511.9 L292.3,514.4 L295.0,516.0 L298.3,517.1 L301.7,517.0 L305.0,518.0 L308.2,519.1 L311.0,521.0 L311.0,529.0 L309.0,534.0 L306.3,535.2 L304.6,537.7 L302.0,539.0 L299.1,541.4 L295.7,542.8 L292.5,544.6 L288.8,546.7 L285.6,549.3 L283.7,551.6 L281.0,552.7 L278.6,557.4 L278.0,562.0 L275.2,566.6 L270.5,569.5 L267.7,570.4 L264.7,570.7 L262.0,572.4 L259.0,573.6 L256.5,575.5 L254.9,578.2 L254.7,581.1 L254.3,584.0 L254.5,587.1 L256.0,589.8 L257.8,592.5 L258.4,595.6 L260.1,598.4 L261.3,601.4 L263.4,605.0 L265.9,608.3 L262.6,606.8 L259.0,606.6 L256.1,606.1 L253.1,605.9 L250.2,605.5 L247.4,604.3 L243.9,603.8 L240.4,604.0 L237.0,603.0 L233.5,602.2 L230.0,602.5 L226.6,602.1 L223.4,603.4 L220.0,603.0 L216.9,603.0 L214.1,601.7 L211.0,601.5 L208.1,600.9 L205.0,601.0 L202.8,598.5 L200.5,596.1 L199.0,593.0 L199.1,589.0 L200.0,585.0 L199.0,581.8 L197.0,579.0 L193.1,579.9 L189.0,580.0 L185.4,578.2 L182.0,576.0 L181.1,573.3 L180.4,570.5 L179.6,567.8 L179.0,565.0 L179.0,556.0 L182.1,554.6 L184.0,551.5 L187.0,550.0 L188.8,546.4 L192.0,544.0 L194.8,543.0 L197.1,541.2 L199.0,539.0 L198.5,535.9 L196.2,533.7 L195.0,531.0 L197.0,526.0 L199.8,525.0 L202.1,523.3 L204.0,521.0 L204.0,517.4 L205.0,514.0 L206.7,510.8 L208.2,507.6 L209.0,504.0 L209.0,494.0 L212.2,492.2 L215.0,490.0 L215.0,487.0 L215.0,484.0 L211.5,483.0 L208.2,481.6 L205.0,480.0 L204.0,478.0 L206.9,476.9 L209.8,476.0 L213.0,476.4 L215.9,475.2 L219.0,475.0 L217.0,471.0 L213.1,469.9 L209.0,470.0 L207.5,467.2 L208.4,463.8 L207.0,461.0 L207.0,457.3 L207.1,453.6 L206.0,450.0 L205.9,446.8 L205.2,443.8 L203.7,441.0 L203.8,437.5 L203.7,434.0 L204.9,431.0 L207.5,429.0 L207.6,426.2 L206.3,423.5 L206.2,420.6 L206.6,417.8 L206.0,415.0 L206.5,411.7 L206.8,408.3 L207.5,405.0 L208.6,402.0 L208.3,398.8 L208.1,395.6 L208.7,392.5 L210.2,389.7 L212.5,387.5 L213.8,384.8 L213.7,381.7 L214.9,379.0 L215.0,376.0 L217.8,374.1 L220.5,372.2 L223.7,371.0 L223.2,368.0 L222.5,365.0 L222.1,361.7 L220.0,358.9 L220.2,355.5 L218.7,352.5 L219.7,349.6 L219.8,346.5 L220.1,343.6 L218.9,340.4 L220.0,337.5 L222.7,335.2 L225.0,332.5 L228.4,330.5 L231.0,327.5 L230.0,324.6 L230.2,321.5 L230.0,318.5 L230.2,315.5 L230.0,312.5 L231.0,307.5 L232.2,304.9 L233.6,302.5 L235.3,300.2 L235.4,297.1 L237.5,295.0 L237.9,291.4 L239.2,288.1 L241.0,285.0 L239.3,281.2 L239.0,277.0 L237.3,273.7 L237.0,270.0 L237.2,266.8 L236.3,263.9 L235.0,261.0 L234.0,257.0 L232.0,253.9 L231.3,250.3 L230.0,247.0 L229.7,243.5 L230.0,240.0 L231.4,237.2 L233.1,234.5 L235.0,232.0 L237.2,228.6 L239.0,225.0 L239.5,221.7 L239.4,218.3 L240.0,215.0 L239.8,211.6 L240.4,208.3 L241.0,205.0 L241.7,201.4 L243.8,198.4 L245.0,195.0 L247.3,192.7 L249.0,190.0 L251.2,187.2 L253.1,184.2 L256.0,182.0 L256.8,178.5 L258.5,175.2 L260.0,172.0 L263.1,170.7 L266.0,169.0 L265.8,165.9 L264.5,163.0 L264.0,160.0 L265.5,156.1 L266.0,152.0 L265.6,148.6 L264.5,145.4 L264.0,142.0 L266.0,137.0 L264.8,134.1 L264.0,131.0 L265.0,128.0 L266.0,125.0 L269.2,123.7 L271.9,121.5 L275.0,120.0 L280.0,118.0 L283.2,115.8 L286.0,113.0 L286.4,109.0 L287.0,105.0Z" fill="none" stroke="#000" stroke-width="2" stroke-linejoin="round"/>
<path d="M262.0,616.0 L266.0,617.0 L268.1,618.9 L270.0,621.0 L269.0,625.0 L271.0,627.0 L272.9,629.1 L275.0,631.0 L277.7,632.2 L280.0,633.9 L282.5,635.4 L285.0,637.0 L287.8,639.0 L290.8,640.8 L294.1,642.2 L297.0,644.0 L300.2,645.1 L303.4,645.7 L306.8,646.1 L310.0,647.0 L313.0,647.2 L316.0,647.2 L319.0,648.0 L322.0,648.0 L320.0,652.0 L316.6,652.5 L313.3,653.0 L310.0,654.0 L295.0,654.0 L292.0,653.6 L289.0,653.5 L286.0,653.2 L283.0,653.1 L280.0,653.0 L277.0,653.0 L274.0,652.3 L271.0,652.4 L268.0,652.0 L265.0,651.1 L262.0,651.0Z" fill="none" stroke="#000" stroke-width="1.7" stroke-linejoin="round"/>
<path d="M166.4,486.5 L165.7,488.1 L165.3,489.5 L163.2,488.4 L161.7,488.5 L161.4,487.0 L159.8,485.6 L159.7,483.5 L162.2,484.0 L164.3,485.0Z M161.0,482.9 L160.3,482.8 L159.9,481.8 L160.5,480.7 L160.6,478.7 L161.6,478.4 L163.2,478.1 L163.1,480.8 L163.0,483.0 L161.9,484.2Z M169.5,480.8 L170.3,482.3 L169.7,482.6 L168.4,483.1 L167.7,480.7 L167.7,478.6Z M168.5,499.9 L167.8,498.7 L166.8,498.4 L167.8,497.9 L167.9,497.0 L168.7,497.2 L169.5,497.9 L168.7,498.6Z M169.7,480.8 L170.7,479.2 L172.1,477.6 L172.9,479.1 L173.4,479.5 L173.7,481.1 L171.6,481.2Z M159.6,484.4 L159.0,482.2 L158.9,480.7 L158.3,478.4 L159.6,477.3 L160.9,479.8 L162.7,480.2 L163.0,482.4 L162.8,484.6 L161.1,484.2Z M165.6,472.4 L164.6,472.7 L163.1,474.0 L163.7,471.6 L163.6,470.6 L164.0,468.8 L165.6,467.5 L166.6,469.2 L166.1,471.1Z M178.2,489.3 L176.1,490.8 L174.6,489.4 L173.8,487.7 L176.6,487.0 L179.6,485.2 L179.1,487.9 L180.8,489.1Z M171.2,500.8 L173.6,500.3 L173.5,503.0 L173.7,505.2 L171.5,508.0 L169.6,507.6 L168.6,506.3 L169.8,504.0Z M168.0,483.6 L167.1,485.2 L166.5,484.2 L166.6,483.4 L166.1,482.6 L167.0,481.5 L168.0,480.6 L168.3,481.7 L169.2,482.2Z M164.5,471.3 L163.9,471.4 L163.4,471.1 L162.0,470.6 L163.6,469.9 L164.3,469.6 L165.1,469.4 L166.4,469.6 L164.8,470.7Z M172.9,461.1 L174.0,460.1 L175.3,460.6 L175.5,463.2 L174.8,465.0 L174.4,467.7 L173.4,465.9 L172.5,465.5 L172.2,463.2Z M154.6,475.6 L156.4,474.9 L157.8,473.8 L160.4,475.7 L161.6,478.4 L158.4,477.4 L157.2,477.0Z M164.6,491.3 L164.9,490.7 L165.1,489.7 L166.4,489.8 L166.1,491.1 L165.9,491.8 L165.1,492.1Z M170.2,486.4 L168.9,487.2 L167.0,487.6 L168.5,485.0 L169.4,483.4 L170.7,483.2 L173.0,481.4 L171.1,484.4 L171.7,485.6Z M168.4,481.1 L170.9,482.2 L171.7,484.4 L171.3,486.3 L169.1,485.4 L166.6,485.8 L165.0,483.3 L165.8,481.0Z M163.9,499.3 L162.9,498.0 L164.5,497.1 L167.0,498.3 L166.4,499.1 L166.4,500.6Z M173.8,478.0 L173.6,480.6 L172.9,482.0 L172.3,483.1 L171.2,484.8 L170.1,483.5 L171.0,480.7 L170.3,478.3 L171.4,476.2 L172.6,477.6Z M166.1,467.5 L166.6,464.8 L167.5,466.2 L168.8,467.0 L167.3,468.7 L166.9,469.3 L166.4,469.8 L165.1,471.4 L165.1,469.2 L164.4,467.5Z M174.8,477.1 L174.7,478.3 L174.1,479.2 L173.3,479.6 L172.1,480.2 L171.0,479.7 L172.6,478.6 L173.2,477.3Z M156.2,491.6 L157.1,491.5 L157.4,492.8 L157.6,494.1 L157.0,495.1 L156.2,495.9 L155.9,494.0 L154.9,494.1 L154.6,492.8 L155.4,491.9Z M166.5,504.7 L165.0,503.8 L163.5,503.6 L163.7,501.4 L165.3,499.9 L166.3,501.5 L166.6,502.6Z M178.8,469.3 L180.3,471.2 L177.9,471.7 L173.1,470.9 L172.4,467.9 L173.4,465.9 L177.4,467.9Z M159.7,481.7 L160.2,480.2 L160.2,479.2 L161.1,478.2 L161.9,479.0 L161.9,479.8 L161.6,480.5 L161.0,481.4Z M170.9,491.6 L173.1,492.5 L175.7,492.9 L175.5,494.9 L174.8,495.5 L174.9,497.7 L172.8,495.5 L169.4,494.7 L171.5,493.5Z M159.5,485.0 L160.4,484.9 L160.5,486.0 L159.3,486.4 L158.3,487.1 L157.4,486.4 L158.3,484.8Z M168.4,477.9 L168.2,476.2 L168.3,475.1 L168.3,473.6 L169.1,472.4 L169.7,474.1 L170.1,474.8 L170.4,475.8 L170.3,477.4 L169.4,478.3Z M169.9,461.8 L169.3,460.4 L170.5,459.1 L171.9,458.2 L173.1,458.9 L174.1,459.6 L173.7,460.9 L173.0,462.3 L171.3,462.4Z M154.8,484.1 L156.5,482.4 L157.8,484.1 L160.1,484.3 L158.6,485.4 L158.8,487.6 L155.7,486.8 L154.7,485.9 L153.4,485.1Z M168.5,490.2 L168.6,491.1 L169.4,492.1 L168.5,492.8 L167.2,492.4 L165.7,492.0 L164.1,490.9 L165.7,490.1 L165.9,489.0 L167.6,488.8Z M170.7,467.0 L171.7,467.4 L171.2,468.7 L170.2,468.4 L169.5,468.5 L169.7,467.7 L170.1,467.3Z M171.8,477.4 L173.4,479.1 L174.5,480.2 L173.8,482.9 L171.5,484.7 L170.6,482.4 L170.8,480.5Z M167.6,485.3 L165.7,483.7 L164.6,482.6 L164.8,480.6 L167.4,481.3 L167.8,483.4Z M175.4,458.5 L175.2,460.1 L175.1,462.3 L173.6,460.4 L173.1,459.1 L172.6,457.0 L174.0,455.6Z M155.3,495.9 L155.4,497.2 L153.8,497.9 L151.6,498.3 L152.0,496.5 L153.1,495.7 L154.5,494.8Z M173.2,464.0 L171.5,463.4 L170.8,461.7 L172.1,460.4 L173.5,460.0 L175.0,460.3 L175.7,461.8 L174.4,462.8Z M156.6,478.4 L156.5,479.6 L155.9,481.9 L153.4,482.8 L153.3,480.7 L155.4,479.4Z M163.0,500.6 L162.4,499.5 L162.9,498.8 L163.4,498.5 L164.1,498.5 L164.5,499.2 L165.3,500.3 L164.1,500.3Z M167.2,501.3 L166.8,502.8 L165.4,501.7 L164.9,500.6 L165.0,499.9 L164.0,497.9 L165.5,497.8 L166.5,499.1 L167.2,500.1Z M161.4,475.8 L161.3,473.2 L163.1,471.4 L165.5,469.9 L169.6,469.4 L167.8,472.2 L165.9,474.8Z M170.1,462.5 L173.0,463.9 L174.3,462.4 L176.5,463.8 L177.6,465.7 L174.8,465.7 L174.5,466.3 L172.9,467.0 L172.4,465.1 L170.7,464.1Z M165.1,502.3 L166.4,501.1 L167.1,501.4 L168.1,500.7 L168.4,501.5 L168.4,503.2 L166.8,504.8 L166.1,503.8 L165.5,503.4Z M172.9,501.4 L173.4,499.4 L174.5,498.9 L176.1,500.4 L177.5,503.6 L175.9,504.0 L174.6,503.3Z M170.2,473.5 L170.9,471.2 L172.0,474.0 L173.9,475.9 L172.4,476.8 L171.4,477.1 L170.5,475.8 L169.0,474.3Z M172.1,493.3 L171.2,492.4 L172.0,491.5 L172.7,490.8 L173.6,491.0 L173.8,491.9 L174.6,493.2 L173.2,493.2Z M163.4,474.0 L164.6,472.8 L165.4,471.8 L166.5,471.2 L166.3,472.6 L167.5,472.8 L166.5,474.1 L165.5,474.2 L165.1,474.2 L164.6,474.2Z M166.4,492.8 L168.5,492.2 L168.2,493.4 L168.5,494.3 L166.8,495.2 L165.8,494.7 L163.1,495.1 L165.5,493.8Z M171.6,503.4 L172.9,503.5 L173.3,504.9 L171.7,505.0 L170.4,505.1 L171.0,504.1Z M171.7,471.6 L170.1,474.0 L169.6,475.8 L168.7,475.2 L167.1,476.4 L167.9,474.3 L167.9,472.7 L169.1,471.7 L169.8,472.2Z M150.4,501.7 L149.5,500.9 L148.7,499.5 L149.3,496.7 L150.9,494.5 L152.6,494.3 L152.9,496.5 L153.8,498.9 L152.1,501.7Z M173.9,478.1 L174.7,478.2 L175.5,475.9 L175.7,478.0 L176.4,478.9 L175.9,480.2 L175.3,480.9 L174.6,480.8 L173.4,481.1 L172.9,479.4Z M175.8,471.9 L174.3,474.0 L173.7,471.7 L173.3,469.8 L173.8,467.4 L175.7,467.0 L177.7,467.8 L178.0,470.4 L177.9,472.8Z M161.3,486.2 L162.0,487.6 L160.4,487.1 L159.2,487.6 L157.7,486.9 L159.7,485.9 L159.9,485.2 L160.8,485.0 L161.6,485.4Z M172.7,478.1 L173.3,476.9 L174.1,477.7 L175.3,479.2 L174.4,481.2 L172.6,480.6Z M168.7,463.6 L168.5,462.3 L168.9,460.7 L169.8,459.9 L171.1,457.7 L172.1,458.3 L171.6,460.5 L170.6,461.8 L169.8,463.9Z M179.1,473.1 L177.6,472.8 L176.4,472.8 L176.1,472.1 L176.6,470.8 L178.6,471.2 L179.6,471.5 L179.8,472.2Z M168.4,497.4 L170.5,497.5 L171.5,499.8 L169.9,500.1 L168.2,499.8 L168.2,498.3Z M169.7,506.4 L168.6,507.5 L167.4,506.4 L166.6,506.0 L167.2,505.1 L167.2,504.3 L168.1,503.1 L169.2,504.0 L170.4,505.0Z M170.6,483.3 L173.4,484.3 L174.9,487.4 L173.0,488.6 L170.6,486.0 L169.1,484.0Z M166.3,492.8 L168.2,490.7 L168.9,492.9 L169.0,495.6 L167.3,498.7 L166.6,496.1 L166.2,495.3Z M167.3,497.1 L166.1,496.9 L165.6,495.8 L164.9,494.8 L166.1,494.6 L166.7,492.9 L167.3,494.5 L167.8,495.1 L167.5,495.8Z M171.0,498.6 L172.7,499.4 L171.0,501.1 L171.4,502.9 L169.8,503.1 L169.2,501.7 L167.5,501.2 L168.4,499.8 L169.2,497.9Z M163.8,465.4 L162.2,463.8 L164.2,461.1 L165.8,461.1 L166.1,462.3 L166.2,464.8Z M157.1,479.0 L155.5,475.1 L154.2,472.8 L154.1,468.9 L156.6,468.7 L158.5,473.3 L159.5,478.3Z M162.3,479.2 L160.9,476.9 L162.7,476.6 L164.1,477.3 L164.6,479.1 L163.9,480.9Z M157.8,482.0 L155.6,480.1 L156.7,478.6 L157.9,478.3 L158.9,479.8 L159.9,480.7 L160.4,482.5 L160.0,484.2 L158.7,486.4Z M170.8,473.7 L170.2,472.3 L168.6,471.6 L169.3,470.4 L170.7,470.6 L172.0,470.7 L171.9,472.0 L171.4,472.6Z M177.3,493.8 L175.9,493.1 L175.1,493.3 L174.1,492.6 L173.7,491.7 L174.9,491.8 L175.6,491.0 L176.5,492.1 L177.9,493.0Z M168.0,464.4 L169.0,464.7 L169.5,464.8 L170.0,465.2 L169.9,465.9 L169.6,466.1 L169.3,466.2 L168.5,466.5 L168.2,465.6Z M173.2,507.3 L174.4,507.0 L174.7,508.8 L174.8,510.7 L173.4,509.5 L172.0,508.7 L172.8,507.6Z M163.5,482.0 L165.6,480.6 L166.2,482.4 L167.3,484.1 L165.1,485.2 L162.6,485.9 L160.2,484.8 L160.6,482.4Z M167.3,470.9 L166.6,473.8 L163.3,472.7 L161.5,471.5 L160.9,468.9 L164.0,469.8Z M176.5,497.1 L177.3,496.2 L179.1,496.8 L181.7,497.8 L179.7,498.8 L179.0,500.1 L176.5,499.6 L175.7,498.2 L174.7,497.2Z M167.3,473.1 L166.9,472.6 L166.4,472.2 L166.3,471.3 L166.9,470.7 L167.7,470.4 L168.3,470.9 L168.9,471.5 L168.9,472.8 L167.8,472.9Z M161.0,494.2 L161.6,496.1 L160.5,497.3 L158.0,496.2 L156.7,494.7 L155.5,492.6 L158.3,492.8Z M162.8,475.3 L163.5,473.5 L164.3,474.4 L165.8,473.5 L164.7,475.6 L164.6,477.2 L163.6,477.0 L161.9,479.0 L162.0,476.9Z M153.0,495.4 L153.6,495.5 L153.6,496.1 L153.9,497.2 L152.7,498.1 L151.5,497.2 L152.6,495.9Z M168.9,480.5 L169.1,479.5 L169.6,478.3 L171.6,477.1 L173.0,478.5 L170.5,480.3 L169.5,481.4Z M162.8,476.9 L163.9,476.3 L165.2,475.3 L165.8,476.1 L164.5,477.6 L163.7,478.5 L162.0,479.9 L162.2,478.2Z M174.4,488.2 L172.7,488.3 L172.7,486.1 L171.2,483.1 L173.3,484.0 L174.6,484.9 L176.4,486.5 L176.6,488.6 L175.8,489.3Z M174.0,490.1 L172.3,488.6 L172.5,487.2 L172.9,485.2 L174.2,486.7 L175.3,488.1Z M161.0,495.9 L161.8,496.6 L162.2,497.6 L160.7,498.0 L160.1,499.4 L159.4,498.5 L158.6,498.1 L159.5,497.3 L159.8,496.0Z M156.7,476.7 L156.8,478.0 L157.5,479.7 L156.5,480.5 L155.7,479.3 L155.4,478.2 L155.5,477.1 L156.0,477.0Z M174.0,493.2 L172.5,494.2 L171.0,494.3 L169.6,494.0 L170.0,492.5 L168.3,491.2 L169.8,490.1 L171.3,490.2 L172.9,490.2 L173.1,491.7Z M161.4,472.2 L160.5,471.8 L160.3,470.7 L160.1,470.0 L159.8,468.9 L160.3,467.3 L161.2,467.8 L161.8,468.5 L162.7,469.4 L161.7,470.7Z M160.6,484.6 L160.9,485.9 L159.5,485.3 L158.2,484.9 L158.2,483.3 L159.9,483.5Z M162.3,499.9 L161.0,501.4 L157.5,500.6 L155.9,500.7 L152.3,500.6 L150.8,498.6 L154.5,498.2 L155.6,497.7 L157.4,497.6 L159.9,498.3Z M174.2,473.2 L173.8,471.2 L174.8,470.5 L176.0,468.8 L176.8,471.2 L177.0,473.2 L177.0,475.8 L175.7,477.0 L174.6,474.8Z M168.1,458.1 L168.7,457.3 L169.8,457.5 L171.3,458.0 L171.1,459.7 L169.6,460.4 L168.3,460.2 L168.3,458.9Z M156.5,480.0 L157.0,477.7 L159.5,476.5 L160.7,476.2 L161.8,476.2 L162.9,477.0 L161.4,478.7 L159.0,480.0Z M161.9,471.3 L160.6,470.3 L161.6,469.0 L163.0,467.3 L163.3,469.6 L163.2,470.9Z M171.1,461.7 L173.1,460.7 L175.0,462.9 L176.2,465.7 L172.2,464.4 L169.6,462.9Z M177.9,469.2 L179.4,468.7 L180.2,469.1 L181.5,469.0 L180.8,469.8 L180.8,470.6 L179.4,471.5 L178.2,471.0 L178.8,470.0Z M190.0,470.7 L189.8,470.2 L189.9,469.4 L190.6,468.0 L191.6,469.0 L192.4,470.0 L191.0,470.7 L190.9,471.7 L190.2,471.1Z M182.0,462.6 L183.1,463.3 L185.5,462.9 L185.6,464.5 L183.3,464.6 L182.6,465.7 L181.7,464.8 L180.4,464.3 L181.5,463.5Z M177.8,500.8 L179.5,500.4 L179.8,499.7 L181.2,500.0 L181.7,500.7 L181.2,501.2 L180.4,501.3 L179.4,501.4Z M185.9,505.8 L185.9,506.9 L185.5,508.3 L184.2,510.2 L183.8,507.7 L183.5,505.2 L185.0,504.9 L185.9,504.3Z M181.0,480.0 L181.9,479.3 L183.5,479.3 L181.9,480.6 L180.9,482.1 L180.0,481.2Z M192.3,477.2 L189.2,478.3 L187.9,479.2 L187.2,478.6 L185.2,478.1 L187.4,476.3 L189.3,476.2 L191.1,476.0Z M182.2,481.4 L181.6,479.8 L182.0,477.9 L183.2,478.7 L184.1,479.2 L184.3,480.7 L184.2,481.8 L184.6,484.2 L183.3,482.3 L182.2,483.7Z M189.5,462.4 L189.0,463.0 L188.2,462.7 L186.8,463.6 L186.4,462.2 L187.3,461.5 L187.4,460.7 L188.2,461.0 L189.6,460.2 L190.5,461.4Z M188.4,482.4 L186.8,482.2 L186.2,482.2 L185.7,481.9 L185.1,480.9 L186.4,481.1 L187.6,479.9 L188.5,481.0Z M153.6,566.5 L154.4,565.3 L155.7,564.1 L157.5,563.2 L159.0,563.3 L157.1,565.0 L156.9,565.5 L155.9,567.1 L153.8,567.7Z M176.5,606.5 L178.5,606.9 L179.4,607.1 L180.2,607.8 L180.8,609.0 L180.2,610.3 L178.7,609.1 L178.0,608.2Z M175.1,566.1 L174.7,568.6 L173.9,566.8 L173.9,565.3 L174.6,563.8 L176.2,563.5Z M275.7,666.9 L276.5,667.3 L277.3,668.1 L276.6,669.5 L275.2,669.4 L273.9,668.8 L275.3,667.8Z M162.5,550.3 L166.5,549.9 L167.2,552.0 L162.2,552.6 L160.3,552.8 L156.5,553.1 L155.9,551.1 L159.7,549.3Z M150.0,547.8 L150.6,547.1 L151.8,547.1 L151.8,548.3 L151.9,549.6 L150.7,549.4 L150.3,549.0 L149.2,548.6Z M158.6,592.6 L156.5,593.8 L153.9,596.5 L151.0,595.7 L154.3,592.9 L153.8,590.8 L156.6,590.7 L157.0,591.9Z M164.7,550.2 L162.6,548.1 L163.4,546.2 L164.1,545.7 L165.4,545.7 L165.3,547.3Z M159.1,604.3 L161.0,605.5 L162.2,604.3 L163.5,606.1 L164.1,608.1 L162.3,608.1 L162.0,609.3 L160.6,609.9 L160.3,607.5 L160.3,606.6Z M194.0,603.1 L192.8,604.8 L191.7,606.2 L190.0,607.8 L189.6,606.4 L190.8,604.5 L190.8,603.4 L191.7,601.6 L192.3,602.8 L192.9,602.8Z M172.1,553.6 L168.7,556.3 L165.5,556.4 L167.4,553.4 L167.8,550.7 L170.7,550.8 L171.6,551.7Z M172.7,614.4 L174.1,616.6 L174.9,616.3 L176.5,617.3 L175.0,618.9 L175.0,620.5 L174.1,619.7 L173.6,619.2 L172.2,618.7 L172.1,616.4Z M146.3,537.9 L147.5,536.6 L149.8,535.5 L149.9,536.7 L149.1,537.6 L147.3,538.6Z M233.9,639.8 L234.7,640.4 L235.1,641.8 L235.8,645.8 L233.4,644.5 L232.7,641.9 L230.4,639.2 L232.0,637.0Z M161.7,583.8 L161.2,585.4 L160.0,585.3 L159.5,586.5 L158.2,584.9 L156.6,583.6 L157.0,582.5 L158.0,582.2 L159.6,582.1Z M170.4,560.3 L170.1,558.8 L167.9,558.7 L169.7,555.1 L171.8,553.5 L173.7,553.3 L174.2,556.1 L171.7,558.6Z M144.4,535.1 L144.6,534.6 L144.0,533.2 L145.0,533.2 L145.4,534.2 L146.4,534.6 L146.2,535.6 L145.5,536.1 L144.6,536.2Z M257.6,656.5 L260.2,656.7 L261.7,658.1 L260.9,660.1 L259.5,661.6 L258.2,660.2 L256.5,659.0Z M175.9,625.9 L177.1,623.6 L180.1,622.9 L179.0,625.6 L177.8,627.5 L175.7,627.6Z M232.9,652.9 L234.1,652.3 L235.4,653.2 L235.2,654.4 L233.7,654.4 L233.0,654.9 L231.7,654.6 L232.1,653.6 L232.4,653.1Z M199.8,638.8 L199.1,638.1 L196.4,636.4 L197.2,635.4 L199.6,636.5 L201.1,636.7 L203.2,637.9 L201.6,638.6 L203.6,640.9 L201.6,641.1Z M171.6,626.3 L169.5,628.5 L168.8,626.3 L170.6,624.5 L172.0,623.2 L173.0,624.2 L173.4,625.9Z M234.9,660.4 L234.3,658.7 L233.8,657.5 L236.0,655.6 L238.3,656.6 L241.9,657.1 L239.3,659.7Z M173.5,576.9 L172.0,576.7 L171.9,575.0 L173.8,574.5 L174.9,574.1 L175.1,575.2Z M172.6,524.9 L172.1,524.4 L172.3,523.8 L172.7,523.5 L173.2,523.4 L173.4,523.8 L174.1,524.5 L173.2,524.7Z M222.9,650.5 L222.9,652.8 L222.2,655.1 L220.9,655.5 L219.6,654.4 L219.1,651.8 L219.1,648.4 L220.7,646.1 L221.9,649.4Z M237.6,651.7 L237.1,651.3 L236.2,651.2 L236.6,650.3 L236.6,649.3 L237.5,650.1 L238.4,649.1 L237.9,650.4 L238.1,650.8 L238.0,651.4Z M203.4,635.1 L203.3,633.6 L205.2,631.1 L207.1,631.9 L207.7,633.7 L206.0,636.5 L203.2,637.5Z M248.4,656.7 L248.5,657.9 L249.7,658.9 L248.0,659.4 L246.4,660.4 L245.1,659.2 L245.1,657.6 L247.2,657.6Z M151.1,561.0 L150.7,558.9 L151.2,556.3 L153.4,556.1 L153.3,558.1 L153.2,560.0Z M167.6,593.2 L167.5,595.0 L168.4,596.4 L168.5,598.9 L167.0,596.8 L166.3,597.1 L166.0,595.7 L165.5,594.3 L166.0,593.3 L166.7,593.6Z M179.9,612.5 L180.0,611.3 L181.1,608.7 L183.1,609.3 L183.7,611.2 L182.6,612.7 L181.8,613.6 L180.6,614.6 L179.4,614.0Z M257.9,652.6 L256.1,650.0 L259.1,650.7 L261.5,650.5 L261.5,653.3 L259.4,654.5Z M146.5,548.7 L146.3,549.6 L145.2,549.5 L144.7,549.5 L144.2,549.3 L143.0,548.9 L142.9,548.0 L141.8,546.0 L143.9,546.7 L144.9,548.2Z M266.2,658.9 L267.5,658.3 L268.7,658.1 L269.9,658.6 L269.3,660.2 L268.6,661.8 L267.4,660.8 L266.2,661.3 L265.8,660.3Z M203.8,646.4 L203.5,646.9 L202.9,647.9 L201.1,647.9 L200.6,646.4 L201.4,645.3 L202.7,644.3 L203.9,645.5Z M171.4,589.0 L170.2,587.6 L169.4,586.2 L170.2,585.6 L169.3,582.5 L171.6,583.5 L172.3,585.9 L174.3,587.0 L173.7,588.2 L172.6,588.5Z M175.2,543.1 L176.9,545.1 L175.0,544.9 L173.9,543.9 L173.3,543.2 L171.3,541.7 L172.6,540.7 L174.3,542.1 L175.9,541.7Z M170.0,588.4 L171.0,586.8 L171.8,586.5 L173.5,586.2 L173.3,587.9 L172.1,589.6Z M277.2,662.7 L275.7,663.1 L276.5,661.9 L276.4,660.6 L278.0,659.1 L279.7,659.5 L279.1,661.4 L279.4,662.5 L278.0,663.1Z M159.4,560.0 L157.9,560.0 L156.6,560.1 L157.2,558.4 L157.8,557.1 L158.7,557.1 L160.4,555.9 L160.8,557.8Z M160.2,540.2 L158.4,542.4 L157.0,543.3 L154.0,544.5 L154.7,541.3 L158.8,538.8Z M173.6,608.0 L170.0,607.4 L170.0,605.5 L169.5,603.9 L172.4,603.8 L173.5,605.7Z M221.6,648.5 L218.6,650.5 L217.8,651.4 L216.8,651.6 L215.8,651.9 L212.6,652.5 L215.5,650.2 L216.6,648.8 L218.4,647.9 L220.1,647.7Z M181.5,637.9 L180.1,639.1 L181.0,636.7 L181.0,635.7 L181.6,633.6 L182.5,634.2 L183.1,635.4 L182.6,637.2 L182.1,638.6Z M171.2,587.9 L171.5,589.6 L170.6,591.2 L169.0,592.3 L169.5,589.7 L170.0,587.8Z M242.6,648.6 L244.6,649.3 L245.2,650.1 L246.7,652.4 L245.1,654.1 L244.1,651.1Z M269.7,664.9 L270.0,664.4 L270.6,663.5 L272.2,663.1 L272.9,664.9 L271.3,665.7 L271.3,666.7 L270.5,667.0 L269.6,666.4 L269.5,665.5Z M226.4,644.8 L227.8,644.6 L229.3,644.4 L229.8,646.6 L228.1,646.6 L227.1,646.4Z M155.4,577.5 L155.6,578.9 L154.9,579.9 L153.8,580.2 L152.9,578.6 L154.1,577.8 L154.5,576.3Z M174.9,633.2 L173.4,635.2 L171.7,631.5 L170.7,628.2 L172.7,628.2 L173.5,626.6 L174.6,628.9 L174.8,630.8Z M142.5,533.9 L143.4,534.2 L145.5,535.2 L143.6,535.7 L141.9,535.0 L141.6,534.1Z M162.8,570.8 L160.4,573.3 L159.7,574.7 L157.6,578.2 L157.6,575.1 L155.4,575.5 L157.8,573.0 L158.7,572.2 L160.2,569.0 L161.2,570.3Z M246.1,653.7 L242.0,654.2 L236.9,653.4 L235.6,650.0 L240.9,650.0 L245.1,651.0Z M174.4,582.4 L173.0,584.6 L171.6,584.5 L171.8,583.0 L172.9,579.9 L174.8,580.4Z M154.9,597.3 L154.1,597.5 L153.6,597.2 L153.0,597.4 L151.8,597.0 L152.8,596.3 L153.1,595.6 L153.8,595.4 L154.3,596.1 L155.0,596.5Z M149.9,574.3 L149.1,573.6 L148.7,572.6 L149.0,572.1 L148.3,570.2 L149.6,571.1 L150.6,572.0 L151.7,573.4 L150.6,573.6 L150.7,574.7Z M147.8,587.4 L145.4,584.8 L147.5,584.2 L150.5,584.8 L153.4,588.4 L151.5,590.7Z M212.0,645.4 L211.4,643.1 L212.4,642.1 L213.3,641.1 L214.6,642.0 L215.7,643.2 L214.8,644.8Z M207.2,640.6 L206.8,641.7 L205.2,642.2 L204.5,641.8 L204.3,640.9 L205.7,640.3 L207.2,639.6Z M174.1,530.5 L173.9,527.7 L175.8,527.4 L176.4,530.1 L176.6,533.2 L175.0,531.2Z M168.0,586.8 L168.5,584.4 L170.3,584.5 L171.8,586.1 L172.0,588.7 L170.3,588.6 L169.1,588.8Z M156.4,616.0 L157.3,612.6 L158.1,611.4 L159.0,612.2 L159.1,613.9 L158.5,616.6Z M149.8,545.0 L149.5,544.8 L148.1,544.2 L148.3,543.3 L149.6,543.9 L150.0,544.1 L151.0,544.1 L150.8,544.8 L151.2,545.6 L150.7,546.3Z M178.1,616.5 L178.8,616.5 L179.8,617.5 L178.9,618.8 L177.6,617.9 L177.6,616.8Z M164.6,607.0 L165.1,606.6 L165.4,605.7 L166.2,605.6 L166.9,606.5 L166.5,607.4 L166.2,607.6 L166.1,608.3 L165.5,608.3 L164.5,608.1Z M160.1,592.6 L157.7,589.2 L155.2,586.4 L155.8,583.0 L157.0,581.2 L159.2,582.6 L161.3,586.1 L159.4,587.5Z M163.3,596.5 L161.8,598.3 L160.5,598.7 L159.1,598.3 L159.9,596.1 L160.4,594.7 L161.4,594.1 L162.8,594.2Z M281.7,667.9 L281.0,667.0 L280.2,664.6 L280.8,662.7 L282.1,664.8 L283.2,664.3 L284.4,666.6 L283.6,668.5 L283.5,670.9 L282.2,670.4Z M195.2,645.4 L195.0,647.2 L194.5,647.8 L194.4,649.0 L193.7,648.3 L193.3,647.3 L192.2,646.1 L193.2,645.8 L193.3,644.1 L194.0,645.6Z M167.3,574.9 L164.2,574.4 L161.6,574.5 L162.4,573.1 L164.7,573.0 L168.5,572.9Z M175.9,573.6 L175.0,575.2 L172.4,575.4 L170.7,574.3 L171.9,572.7 L173.0,571.5 L175.3,569.7 L176.8,571.4 L179.4,572.4Z M161.7,550.1 L162.1,549.7 L162.3,549.2 L162.8,548.6 L164.0,548.4 L163.2,549.7 L163.4,550.1 L162.9,550.3 L162.6,550.4 L161.9,550.6Z M235.2,648.7 L235.5,647.3 L234.0,644.0 L235.7,644.9 L236.8,646.4 L237.9,647.1 L239.2,649.4 L237.9,649.8 L237.6,651.3 L236.4,649.2Z M175.3,622.0 L176.9,623.2 L174.8,624.1 L173.1,624.0 L170.4,623.3 L173.1,622.6Z M146.2,534.2 L145.4,535.2 L143.9,535.8 L143.6,534.0 L144.3,532.9 L144.9,531.3 L145.8,532.5 L147.1,532.8Z M174.1,612.3 L174.2,613.5 L174.4,614.4 L173.4,614.7 L172.7,614.5 L172.6,613.8 L172.1,613.0 L172.9,612.1Z M193.8,604.1 L195.0,606.0 L196.1,608.2 L193.5,609.1 L191.0,607.3 L191.2,605.6 L191.2,603.8Z M168.3,596.8 L168.9,597.5 L168.5,599.1 L167.7,600.5 L167.0,600.1 L166.0,599.7 L166.7,597.9 L167.4,596.1Z M180.3,612.4 L177.9,612.5 L177.6,613.0 L176.5,613.3 L175.1,612.3 L175.8,611.5 L175.1,610.0 L176.6,609.3 L177.5,611.5Z M221.6,652.0 L222.3,651.8 L223.2,652.4 L225.0,653.6 L224.0,654.6 L223.1,654.8 L221.8,655.5 L220.6,653.8 L220.5,652.2Z M189.1,632.6 L186.8,631.7 L185.2,630.3 L187.1,629.5 L188.5,628.1 L191.7,629.2 L193.2,630.6 L194.5,632.2 L190.8,631.9Z M180.3,603.0 L182.2,602.2 L183.7,600.8 L186.1,601.1 L188.3,601.9 L186.6,603.4 L184.3,603.9 L182.3,604.5 L180.7,604.0Z M168.5,586.3 L168.1,585.2 L168.6,584.2 L169.6,584.6 L170.3,585.5 L169.4,586.0Z M244.5,646.9 L242.8,645.3 L243.6,643.1 L244.7,642.2 L246.5,640.5 L247.0,644.9 L247.9,648.6 L245.6,647.6 L244.9,651.2Z M145.1,534.5 L146.4,532.6 L146.6,530.8 L147.9,528.9 L148.9,531.0 L149.5,532.1 L148.8,533.3 L149.3,535.7 L147.7,536.4 L145.8,536.7Z M245.1,647.1 L244.9,646.2 L245.3,645.8 L245.4,644.4 L247.4,644.7 L247.6,646.5 L247.6,647.2 L248.4,649.1 L246.3,647.5Z M161.2,592.9 L162.3,593.6 L161.6,594.3 L161.7,595.0 L161.7,596.8 L160.4,595.4 L159.6,594.1 L158.6,592.5 L159.2,591.6 L160.3,592.1Z M225.9,639.6 L225.4,640.6 L224.7,639.9 L224.3,639.4 L224.5,638.7 L225.1,636.5 L226.5,637.7Z M156.7,582.7 L157.3,584.4 L156.8,585.9 L156.5,588.1 L154.7,588.5 L153.4,587.7 L153.7,585.6 L154.6,583.2Z M189.7,596.4 L191.3,595.5 L190.9,596.8 L190.7,598.2 L189.0,599.8 L187.0,600.4 L187.1,598.7 L187.1,597.3 L189.0,596.6Z M236.3,659.3 L235.5,658.0 L237.7,657.5 L239.8,656.4 L241.3,657.3 L241.4,658.6 L239.9,659.7 L239.1,661.4 L237.3,660.7 L237.1,659.7Z M169.5,591.8 L170.2,589.5 L170.0,587.0 L171.8,586.6 L172.9,586.7 L174.1,587.8 L172.5,590.4 L171.0,591.4Z M280.8,667.2 L279.5,667.6 L276.5,670.3 L275.0,669.0 L276.1,666.0 L279.0,664.1 L280.4,664.8 L283.3,663.2 L283.1,665.4Z M169.1,561.4 L170.9,560.7 L172.6,559.9 L173.1,561.2 L175.4,561.1 L174.7,562.1 L174.0,563.3 L172.1,562.4 L170.7,562.9 L169.0,562.5Z M152.1,537.7 L153.4,538.2 L154.6,538.3 L154.0,540.3 L153.7,542.6 L152.5,541.7 L151.3,541.8 L151.0,539.7Z M272.6,668.5 L272.1,666.1 L274.1,665.1 L276.6,664.6 L278.6,666.5 L278.5,668.4 L278.0,670.2 L275.5,669.3Z M177.2,579.9 L176.1,579.2 L174.8,579.0 L175.4,577.4 L175.0,576.1 L175.5,575.3 L176.3,576.9 L177.8,577.0 L177.1,578.3Z M150.2,533.2 L150.3,532.5 L150.5,531.6 L151.6,531.2 L154.0,532.4 L154.7,535.0 L154.7,536.9 L153.2,536.8 L151.8,536.2 L149.7,535.1Z M158.4,530.4 L158.5,531.8 L157.6,532.7 L156.4,534.1 L156.1,532.3 L156.1,530.5 L157.5,528.8Z M150.6,582.7 L150.6,580.7 L151.6,582.3 L152.2,583.4 L152.6,584.7 L152.9,586.5 L152.0,586.6 L151.0,585.7 L149.9,584.6 L150.0,583.0Z M166.2,610.6 L168.0,610.5 L168.8,611.9 L168.2,612.4 L168.6,614.0 L165.8,613.5 L163.7,611.6 L163.4,609.8Z M170.6,565.5 L171.7,566.1 L172.5,566.8 L174.2,568.3 L172.5,568.1 L171.6,569.7 L169.1,567.8 L170.3,566.4Z M174.5,529.5 L175.5,528.5 L176.7,529.3 L177.7,530.4 L176.6,531.4 L175.3,531.1 L173.5,531.5 L172.3,530.0Z M207.6,642.0 L206.7,643.5 L202.6,643.6 L201.1,641.5 L202.2,639.4 L205.7,640.9Z M153.8,547.2 L153.3,546.4 L154.3,546.1 L155.2,545.2 L155.6,546.5 L156.3,546.9 L155.6,547.2 L154.9,548.0Z M213.3,641.7 L213.3,638.4 L213.5,635.6 L215.3,637.2 L216.1,636.8 L217.6,637.2 L218.4,640.2 L216.6,640.8 L216.0,641.4 L215.1,642.1Z M169.0,532.5 L168.1,533.3 L168.2,534.9 L165.4,534.0 L163.1,532.9 L160.6,531.3 L160.5,529.6 L164.2,530.8 L165.4,530.4 L166.4,531.6Z M159.1,561.6 L157.9,562.1 L158.1,560.7 L158.1,558.7 L159.8,559.7 L160.2,561.2Z M172.8,551.1 L174.6,552.3 L175.8,553.3 L175.7,554.4 L173.8,554.5 L171.6,554.9 L171.4,553.2 L170.3,552.3 L171.1,551.6Z M217.0,645.7 L215.2,644.5 L214.1,645.4 L213.2,643.6 L213.7,642.8 L213.0,641.0 L214.6,641.2 L215.4,643.2 L217.4,644.5Z M189.5,643.4 L187.5,643.6 L185.5,642.6 L183.8,641.0 L185.6,640.5 L189.6,641.1Z M146.3,551.5 L145.9,550.3 L147.3,550.2 L148.1,551.1 L148.1,552.2 L147.2,552.7 L145.7,552.9Z M146.1,556.5 L145.6,554.5 L147.9,553.8 L148.8,554.3 L151.5,553.6 L150.5,556.1 L148.6,556.8 L146.8,558.2Z M166.9,577.0 L166.2,578.0 L165.3,579.7 L163.6,579.1 L163.1,578.5 L163.2,577.7 L162.9,576.2 L165.4,574.7 L167.7,575.1Z M227.7,653.6 L226.7,652.1 L224.9,650.6 L225.4,648.2 L227.1,647.0 L228.3,649.9 L230.0,650.2 L230.9,652.6 L228.8,652.8Z M147.7,572.0 L145.7,574.6 L145.3,576.7 L143.4,576.9 L142.6,575.8 L141.0,574.2 L143.0,571.3 L145.9,570.5Z M169.5,583.0 L168.8,582.1 L167.1,582.5 L168.3,581.2 L167.8,580.0 L169.1,580.5 L169.6,580.6 L170.4,580.6 L171.4,581.5 L171.0,582.9Z M178.5,631.8 L178.6,633.4 L177.6,634.1 L176.1,633.9 L175.0,632.5 L174.4,631.0 L174.7,629.8 L175.8,629.7 L176.7,629.6 L178.2,630.2Z M208.2,648.8 L209.9,650.7 L207.6,651.0 L208.5,653.7 L206.3,652.0 L204.0,651.1 L205.6,649.9 L205.2,648.7 L206.4,648.7Z M172.3,620.8 L168.8,621.0 L170.0,618.4 L172.5,617.6 L175.3,616.8 L175.0,618.9Z M195.5,628.0 L195.2,630.1 L192.4,629.6 L190.1,630.0 L189.2,628.2 L191.2,626.8 L193.1,627.6Z M159.4,563.7 L157.4,563.5 L158.2,561.2 L158.8,558.4 L161.1,558.5 L162.9,558.6 L163.6,560.3 L162.6,562.6 L160.7,562.9Z M169.4,576.7 L169.7,575.4 L169.8,574.8 L170.2,574.5 L171.2,574.8 L172.0,576.1 L172.3,577.3 L171.3,576.8 L170.9,578.0Z M152.3,573.0 L151.6,572.1 L152.2,571.2 L152.3,570.4 L153.6,569.3 L156.4,568.9 L155.2,570.8 L156.8,571.9 L154.4,572.8Z M255.7,647.0 L257.0,647.2 L257.6,648.8 L256.2,651.1 L254.4,651.2 L253.6,650.6 L253.0,649.4 L254.2,647.5Z M155.2,596.2 L155.3,597.1 L153.8,598.4 L152.9,597.7 L153.5,596.8 L153.7,595.6 L154.8,595.8Z M157.7,534.5 L156.0,536.8 L155.3,534.8 L155.9,532.9 L156.6,531.4 L158.3,530.1 L158.5,532.3Z M161.4,586.4 L164.1,589.5 L166.7,590.5 L165.2,591.6 L165.4,593.5 L163.3,592.2 L160.1,590.7 L161.2,588.8Z M244.7,642.9 L244.9,644.4 L246.2,645.5 L243.8,648.2 L241.4,648.9 L242.4,646.1 L242.6,643.9Z M186.0,594.7 L186.4,596.1 L186.8,597.1 L186.5,598.1 L184.9,598.1 L184.2,596.4 L184.1,595.7 L183.5,594.6 L184.4,594.0Z M252.3,655.1 L253.2,657.7 L253.0,658.8 L253.1,659.6 L252.7,660.3 L251.6,661.0 L250.5,659.3 L250.9,657.8 L250.8,655.5Z M165.9,553.1 L166.5,554.6 L165.4,556.7 L163.8,557.2 L163.1,556.3 L161.8,555.3 L163.3,553.3 L164.7,553.2Z M248.6,655.3 L249.5,654.5 L250.4,654.7 L251.0,655.5 L250.1,656.4 L249.7,657.5 L248.7,657.2 L248.7,656.4 L247.8,656.0Z M159.0,574.0 L157.6,574.1 L155.6,574.4 L155.8,572.0 L156.3,570.3 L157.6,569.8 L158.9,569.7 L159.3,571.0 L159.7,572.4Z M178.3,532.2 L178.8,531.7 L179.4,531.1 L180.0,531.8 L180.9,532.3 L180.0,533.0 L179.7,534.2 L179.0,532.9 L178.7,532.7Z M178.7,615.3 L179.4,615.7 L180.5,616.1 L180.0,617.0 L179.8,617.7 L179.1,617.2 L177.9,616.9 L177.1,614.9Z M279.5,664.8 L277.9,665.4 L278.2,662.8 L279.4,662.1 L279.9,660.5 L280.3,662.0 L282.1,661.8 L281.8,664.7 L280.5,666.2Z M181.9,618.2 L179.1,621.1 L176.4,620.7 L177.8,617.3 L179.6,613.9 L181.6,615.2Z M169.3,566.2 L171.5,564.8 L171.1,568.1 L171.5,570.5 L169.7,569.7 L168.1,572.5 L166.3,569.8 L166.7,566.6 L168.5,566.4Z M179.4,626.9 L180.2,627.2 L181.9,626.5 L180.0,628.6 L180.4,629.8 L179.0,630.9 L177.8,631.2 L177.6,630.3 L177.2,629.4 L178.8,628.5Z M241.7,648.0 L240.9,649.4 L240.3,650.9 L238.2,652.0 L238.6,650.2 L238.7,649.0 L240.6,647.1Z M149.3,592.6 L147.3,592.6 L147.6,591.3 L148.6,590.8 L148.7,590.0 L149.9,589.9 L150.8,590.5 L152.8,591.0 L152.6,592.3 L150.1,591.8Z M255.4,651.4 L257.0,649.4 L259.4,650.5 L258.7,651.8 L259.1,653.7 L256.1,653.3 L252.0,653.3Z M166.9,618.3 L167.7,619.4 L167.6,620.1 L167.6,620.8 L167.0,622.2 L165.8,621.2 L165.1,620.2 L165.4,618.8Z M225.3,651.6 L222.7,651.0 L226.1,648.0 L227.8,647.3 L229.8,647.6 L228.1,651.1Z M221.7,644.9 L223.8,643.8 L225.1,646.7 L223.5,648.8 L221.4,648.6 L221.0,646.6 L220.5,645.2Z M251.7,655.4 L252.3,658.4 L251.6,660.4 L251.0,662.8 L249.3,663.2 L249.0,659.4 L250.6,658.2Z M251.3,649.2 L252.1,650.8 L252.0,653.0 L251.0,655.0 L249.2,655.6 L247.6,654.2 L247.2,651.6 L247.8,649.4 L248.8,647.6 L250.1,649.4Z M180.2,637.4 L180.6,638.7 L181.0,639.5 L181.5,640.9 L179.9,639.8 L178.8,639.6 L178.8,638.7 L177.9,637.5 L179.2,637.9Z M240.9,644.0 L242.4,643.1 L243.7,644.7 L242.3,645.8 L241.3,645.8 L239.1,645.3Z M163.3,576.9 L163.2,575.3 L162.1,574.4 L162.7,572.7 L164.2,572.5 L165.3,572.3 L166.3,572.9 L165.6,574.4 L164.9,574.9 L164.5,575.6Z M264.7,664.1 L265.4,663.0 L266.6,663.7 L267.0,664.2 L266.6,664.6 L266.1,664.9 L265.3,664.9Z M179.8,532.6 L183.0,531.4 L183.3,533.5 L182.5,534.8 L182.5,536.7 L180.0,535.8 L176.2,537.5 L177.9,535.0 L178.8,534.1Z M203.4,633.8 L204.6,634.1 L204.6,634.9 L206.1,634.9 L205.4,635.9 L204.0,635.8 L203.4,636.3 L201.9,636.7 L202.4,635.7 L203.2,635.1Z M164.2,623.4 L166.3,622.5 L168.3,619.5 L170.0,625.0 L168.4,628.5 L166.2,626.4Z M142.9,546.6 L144.0,548.1 L141.7,549.3 L139.5,547.4 L139.2,546.3 L140.1,545.7 L140.6,545.1 L142.2,544.9 L143.7,545.7Z M289.6,666.7 L288.8,666.7 L287.7,666.7 L287.3,665.9 L288.1,665.1 L290.2,665.1 L290.6,666.2Z M217.5,635.8 L217.3,636.4 L217.4,637.6 L216.3,637.1 L215.1,636.6 L215.9,635.8 L216.0,634.7 L217.0,635.3Z M201.6,647.3 L200.0,647.4 L198.6,646.0 L199.1,644.2 L200.0,643.3 L201.1,643.8 L202.6,644.2 L202.1,645.8Z M169.0,554.4 L167.2,552.6 L168.2,549.4 L174.4,548.6 L173.9,551.4 L172.8,553.0Z M213.5,653.7 L212.3,654.4 L212.2,652.7 L213.0,651.2 L213.6,648.8 L214.5,650.3 L215.0,651.0 L214.5,652.2 L214.3,653.4Z M166.1,553.2 L166.2,551.6 L167.1,551.2 L168.5,551.0 L170.3,553.4 L169.6,554.8 L169.1,555.7 L167.6,555.2Z M150.1,594.8 L151.1,596.0 L150.3,598.0 L148.3,596.9 L147.7,595.1 L149.1,594.4Z M160.7,557.3 L159.6,555.9 L161.0,555.6 L161.4,555.3 L162.3,555.4 L162.5,556.3 L162.7,556.8 L163.0,557.8 L162.0,557.3Z M226.3,642.5 L225.9,641.5 L225.4,640.7 L226.4,640.2 L227.2,639.6 L228.3,640.0 L228.1,641.0 L228.4,641.8 L228.0,643.6Z M153.1,588.4 L155.0,592.3 L156.0,596.8 L153.0,597.0 L150.5,593.5 L151.8,591.2Z M242.4,653.4 L242.8,655.5 L239.8,653.8 L239.1,655.2 L238.0,653.3 L236.8,652.1 L236.5,650.7 L237.1,649.5 L239.0,649.6 L241.1,651.3Z M186.7,627.2 L184.3,629.4 L183.8,631.0 L181.9,630.8 L179.9,629.7 L182.2,628.2 L184.1,625.5Z M217.6,650.7 L217.0,650.2 L215.6,650.2 L216.8,648.9 L217.0,648.3 L217.4,646.7 L217.8,648.5 L218.3,648.7 L218.8,649.5 L218.1,650.0Z M148.5,595.9 L148.2,594.0 L147.4,592.7 L148.7,592.0 L150.5,592.8 L151.0,594.3 L150.3,595.4Z M250.6,648.8 L249.5,649.7 L248.9,649.9 L248.0,649.8 L248.3,648.8 L249.5,648.1Z M224.3,641.3 L228.3,640.7 L229.6,640.9 L233.3,639.5 L230.7,641.7 L230.6,643.0 L228.4,644.0 L227.7,642.9 L224.5,643.3Z M242.0,646.3 L240.9,645.2 L241.4,644.2 L242.7,643.9 L244.4,644.6 L244.1,645.4 L245.4,646.7 L243.9,647.1Z M160.6,576.9 L165.7,576.2 L171.4,575.0 L169.2,578.8 L163.1,581.8 L158.6,580.7Z M150.2,545.8 L152.5,544.9 L154.0,543.6 L156.2,544.6 L157.2,546.5 L154.6,546.9 L153.7,547.9 L152.3,547.3Z M172.7,540.9 L172.6,539.7 L173.6,538.3 L176.3,537.0 L177.9,538.5 L180.5,539.2 L180.2,541.3 L177.1,542.1 L175.0,541.9 L172.5,542.4Z M228.3,658.7 L226.5,657.2 L225.8,656.2 L224.4,654.6 L225.4,652.7 L228.1,653.3 L229.9,655.4 L229.7,657.5Z M142.6,544.9 L139.9,547.0 L140.0,544.6 L140.2,543.6 L142.0,542.5 L144.8,542.7Z M244.4,646.0 L245.1,646.9 L246.1,648.0 L245.3,650.1 L244.2,652.6 L242.4,652.8 L241.3,651.4 L242.6,648.9 L242.2,647.3 L243.2,646.1Z M258.4,657.0 L257.5,656.9 L256.9,656.5 L256.7,655.6 L257.5,654.9 L258.6,655.0 L258.5,656.1Z M158.9,555.2 L161.2,556.2 L162.6,555.8 L163.3,558.0 L163.3,558.9 L163.5,560.7 L161.6,559.1 L159.7,557.6Z M201.4,641.8 L201.3,642.6 L201.4,643.4 L200.5,643.3 L199.7,643.6 L199.4,642.8 L199.7,642.3 L199.7,641.9 L199.8,640.7 L200.8,641.3Z M198.7,633.3 L199.1,632.4 L200.0,632.0 L200.8,630.7 L202.9,630.5 L204.9,631.2 L204.4,632.9 L202.0,633.6 L200.8,634.7 L199.0,634.4Z M173.4,530.2 L171.8,530.4 L172.0,528.8 L172.2,527.2 L173.6,526.4 L174.8,526.9 L175.4,527.8 L175.7,528.9 L174.9,529.7 L174.3,531.4Z M161.0,520.8 L160.1,521.8 L159.8,522.4 L159.1,523.2 L158.2,523.0 L157.8,521.7 L158.8,520.5 L159.7,520.4 L160.6,519.9Z M162.0,532.5 L163.0,533.5 L165.6,534.8 L164.0,536.0 L163.5,537.0 L162.1,535.8 L160.2,536.5 L160.9,534.4 L158.9,532.2 L161.0,532.8Z M174.7,529.6 L174.2,528.3 L173.0,528.3 L173.6,526.5 L175.4,525.8 L176.6,525.3 L178.1,525.6 L176.7,528.0Z M200.3,630.4 L200.9,628.6 L201.7,630.8 L203.7,631.6 L202.0,632.4 L201.6,632.9 L200.8,633.0 L199.8,632.3 L199.8,631.1Z M167.1,555.2 L165.1,556.0 L165.1,557.2 L163.5,557.8 L163.4,556.3 L163.1,555.5 L163.9,555.1 L164.6,553.6 L165.7,554.5Z M170.7,577.8 L171.6,578.4 L172.2,578.7 L172.7,579.5 L172.5,580.3 L171.7,580.2 L170.8,580.4 L170.0,579.4 L170.3,578.5Z M184.8,634.9 L186.0,633.7 L187.1,635.2 L186.2,636.3 L184.8,637.2 L184.3,635.6Z M207.8,638.0 L207.1,638.7 L205.7,639.1 L204.0,637.6 L204.4,635.8 L206.4,636.2 L207.8,636.8Z M149.7,569.1 L152.4,568.5 L151.2,572.2 L150.8,575.2 L149.0,574.6 L147.9,574.2 L147.9,572.0Z M164.7,620.0 L162.3,620.6 L160.0,618.6 L160.1,616.9 L160.8,615.9 L162.2,615.7 L164.8,616.1 L166.0,618.4Z M158.7,596.1 L157.7,595.4 L157.1,593.8 L158.3,593.2 L159.6,593.8 L160.3,594.7 L161.0,595.5 L162.0,597.2 L160.1,596.7 L159.2,598.7Z M148.2,564.3 L146.0,564.2 L144.8,563.6 L142.1,562.4 L143.3,560.1 L146.3,560.3 L147.7,562.3Z M155.0,578.6 L155.5,579.3 L156.3,581.0 L154.7,581.2 L153.9,580.9 L153.2,580.5 L152.5,579.4 L153.5,578.7 L154.3,576.5Z M169.4,596.4 L170.8,597.1 L170.0,598.5 L167.4,598.6 L166.4,597.6 L167.8,596.7Z M153.6,593.3 L152.1,592.8 L153.0,589.4 L154.9,588.3 L156.7,589.2 L155.7,593.4Z M280.0,668.2 L280.4,665.6 L283.4,666.7 L282.9,669.1 L281.8,670.2 L280.1,669.7Z M195.9,601.3 L195.0,602.5 L195.5,604.1 L194.0,603.4 L193.2,603.4 L192.3,603.0 L192.9,601.9 L193.5,599.9 L195.0,600.7Z M164.9,564.3 L165.7,566.1 L165.0,568.8 L162.5,569.9 L160.5,572.1 L158.5,571.8 L158.7,569.2 L161.2,567.3 L162.6,565.1Z M223.4,635.3 L223.8,636.7 L225.9,638.4 L225.1,642.6 L223.0,643.8 L222.2,640.1 L220.8,639.1 L221.9,636.6 L222.5,634.7Z M156.2,583.7 L154.8,583.6 L154.1,582.6 L153.7,581.3 L154.9,581.0 L155.7,581.8 L157.0,582.5Z M210.6,633.4 L209.6,635.9 L209.0,638.7 L206.4,637.4 L205.6,634.7 L207.6,632.4Z M252.3,648.6 L249.7,649.2 L248.4,648.4 L246.4,647.0 L249.8,644.9 L253.2,643.0 L252.8,645.8 L255.5,646.6Z M244.3,657.8 L244.9,659.7 L244.0,662.1 L243.1,662.9 L241.8,664.7 L240.5,663.5 L240.1,659.9 L241.5,656.4 L243.3,656.3Z M169.0,599.8 L169.0,601.0 L168.3,600.3 L167.5,600.5 L167.0,599.5 L168.1,599.1 L168.4,597.3 L169.2,598.2 L169.3,599.1Z M241.6,660.4 L240.9,661.6 L238.9,661.4 L239.4,659.8 L238.0,658.3 L240.2,658.6 L241.8,657.3 L243.1,658.7 L241.8,659.9Z M159.3,525.1 L160.0,526.5 L159.5,528.5 L158.3,528.4 L157.8,526.9 L158.4,525.4Z M154.3,604.3 L152.4,604.2 L152.4,603.0 L155.1,603.0 L156.0,602.7 L156.4,603.1 L157.1,603.3 L158.5,604.3 L156.5,605.3 L154.9,604.5Z M176.3,600.2 L176.7,602.4 L175.0,604.4 L175.1,606.5 L173.6,608.7 L172.0,608.0 L173.0,604.9 L173.1,603.9 L172.8,601.0 L174.5,601.5Z M177.6,622.8 L176.8,626.0 L174.7,626.4 L173.7,623.0 L176.1,620.9 L177.6,617.4 L178.7,619.9Z M227.6,640.1 L229.9,640.2 L231.6,640.5 L231.6,642.5 L231.0,645.4 L227.8,648.6 L225.2,648.8 L224.3,647.5 L225.8,645.1 L225.5,643.5Z M143.4,577.8 L142.9,576.1 L143.6,574.8 L144.6,573.5 L147.2,572.2 L147.4,574.1 L145.3,575.5Z M163.8,548.4 L163.3,549.5 L163.6,551.3 L161.5,551.1 L160.5,549.5 L159.7,548.0 L160.2,546.3 L162.3,547.6Z M158.8,578.2 L158.5,579.3 L157.5,580.4 L156.1,579.6 L156.9,577.6 L158.3,576.8Z M178.4,577.7 L180.5,579.4 L178.2,580.3 L176.1,581.9 L173.2,579.8 L169.4,577.9 L171.6,576.4 L175.2,576.2Z M174.1,623.7 L176.3,623.0 L177.2,624.7 L175.8,626.8 L174.5,628.9 L172.7,628.8 L172.5,627.4 L171.7,626.6 L172.9,625.4Z M148.9,558.9 L150.2,558.4 L150.8,557.5 L152.9,558.6 L155.5,559.5 L155.7,560.9 L153.0,560.3 L152.2,560.9 L149.6,560.5Z M189.6,633.5 L190.7,632.5 L191.6,634.6 L192.6,638.8 L190.6,641.1 L188.6,638.6 L187.6,634.5Z M218.6,651.6 L217.5,653.2 L215.6,653.4 L214.5,652.7 L216.7,651.2 L217.5,650.4 L219.8,648.5 L219.9,650.0 L221.7,650.5Z M177.1,538.7 L175.3,537.4 L178.0,537.5 L180.1,536.4 L181.3,537.6 L182.7,539.1 L180.2,540.0 L178.4,539.4 L176.2,540.2Z M233.6,657.8 L232.0,654.8 L235.4,656.4 L237.3,657.5 L238.6,660.6 L235.2,658.8Z M188.2,623.7 L189.3,624.2 L188.3,626.0 L188.3,627.6 L186.9,627.7 L186.4,627.3 L186.1,626.7 L186.6,625.3Z M284.4,671.0 L283.3,673.5 L282.4,670.4 L282.0,669.3 L281.5,667.5 L282.2,665.7 L283.3,664.6 L284.8,665.0 L284.9,668.2Z M177.4,594.6 L179.2,593.6 L180.2,593.5 L180.7,593.6 L181.7,593.7 L180.9,594.5 L180.3,595.2 L179.0,595.9 L177.5,595.9Z M168.7,556.3 L167.7,557.3 L165.4,555.3 L164.3,554.6 L162.1,552.6 L164.9,553.7 L165.7,553.8 L168.5,554.5Z M146.4,575.0 L146.1,575.7 L146.5,578.4 L144.3,576.6 L142.0,575.5 L141.4,573.3 L142.2,572.1 L144.0,573.0 L145.2,571.7 L147.6,573.2Z M163.8,589.7 L163.3,587.6 L164.7,588.4 L166.0,588.0 L167.2,589.0 L166.1,590.6 L165.3,591.3 L164.6,591.4 L163.0,592.6 L162.3,591.1Z M198.8,638.7 L198.2,636.0 L200.3,635.5 L202.6,636.2 L201.4,638.2 L200.9,640.7Z M163.7,524.8 L165.0,525.0 L164.5,525.8 L164.6,526.7 L163.1,526.2 L161.5,527.2 L161.8,526.0 L160.7,525.4 L162.0,525.0 L162.9,525.1Z M175.0,529.8 L174.2,529.6 L174.0,528.8 L173.8,528.1 L174.2,527.3 L175.0,526.7 L175.6,527.7 L175.7,528.2 L176.1,528.8 L175.4,529.0Z M184.0,597.9 L184.6,596.7 L184.5,595.0 L187.3,593.9 L188.7,595.1 L190.9,595.7 L189.3,597.7 L187.1,599.4 L185.7,597.7Z M152.8,550.5 L153.1,549.3 L153.6,548.3 L154.4,549.0 L154.7,549.5 L155.7,550.1 L155.4,551.5 L154.3,551.3 L153.4,551.4Z M160.3,591.6 L158.5,592.7 L156.8,592.5 L156.3,590.1 L157.2,587.5 L158.9,588.1 L159.8,588.0 L160.4,589.2Z M158.6,601.6 L157.4,604.3 L155.8,601.9 L155.0,600.0 L156.2,598.8 L157.3,599.8Z M157.3,599.5 L156.2,598.8 L155.6,598.2 L156.3,597.0 L156.9,596.5 L157.9,595.4 L157.7,596.7 L157.9,597.4Z M187.2,643.5 L186.6,643.9 L186.2,644.2 L185.0,645.1 L183.8,644.4 L185.3,643.2 L185.7,642.9 L186.1,642.7 L186.7,642.5 L188.2,642.4Z M168.4,530.6 L168.0,532.0 L166.9,534.2 L165.1,533.1 L165.6,531.7 L166.7,530.6Z M178.4,601.3 L180.2,603.1 L177.4,602.9 L175.8,604.6 L174.6,602.4 L172.6,600.5 L174.8,599.4 L177.1,600.4Z M256.1,657.1 L257.2,656.5 L258.0,655.4 L260.0,655.1 L259.6,657.0 L259.6,658.3 L258.6,659.9 L256.5,660.3 L256.1,658.3Z M175.3,589.2 L174.5,588.7 L173.4,588.5 L172.8,587.3 L173.7,586.3 L174.8,585.9 L175.5,586.8 L176.9,586.7 L176.8,587.9 L176.5,589.0Z M286.5,669.1 L285.5,669.5 L284.5,669.0 L284.8,667.8 L286.1,667.8 L287.0,667.3 L287.6,668.0 L287.8,669.0Z M169.3,548.0 L169.3,546.8 L169.3,544.6 L171.5,547.9 L173.8,548.0 L174.4,550.1 L173.3,550.7 L172.6,551.1 L171.2,552.4 L168.8,550.0Z M237.8,649.8 L236.5,649.3 L235.5,648.4 L235.2,647.2 L237.1,647.1 L238.3,646.2 L240.0,647.0 L239.6,648.2 L239.5,648.8 L239.2,649.6Z M177.2,613.6 L175.9,613.4 L174.1,612.5 L173.7,611.0 L175.6,611.1 L176.8,612.0 L178.2,612.6 L179.4,614.0Z M152.9,587.0 L152.3,587.8 L151.1,587.1 L150.6,586.5 L149.5,585.2 L151.9,585.2 L153.6,586.1Z M179.2,633.6 L181.0,633.8 L182.6,634.9 L179.9,635.4 L178.4,635.5 L176.9,635.0 L176.5,633.6Z M181.0,608.8 L180.8,604.7 L182.0,602.9 L183.7,602.1 L183.7,604.6 L183.8,607.4Z M237.2,644.5 L237.8,645.7 L237.3,646.7 L235.9,646.4 L234.3,646.0 L235.2,645.1 L235.5,643.6Z M172.4,587.3 L172.7,588.7 L172.8,589.6 L172.1,590.6 L171.3,589.6 L171.0,588.7 L171.7,588.3Z M167.7,576.0 L165.7,575.1 L166.3,574.0 L167.8,573.9 L170.7,574.4 L169.8,575.9Z M150.7,590.5 L149.3,590.0 L148.2,588.6 L149.0,587.6 L150.0,587.8 L151.2,587.3 L151.2,588.7 L151.3,589.5Z M160.9,571.7 L160.7,572.6 L159.8,573.7 L158.2,573.7 L157.4,572.9 L157.1,571.8 L158.5,571.3 L159.4,571.2 L160.7,570.9Z M144.3,578.4 L145.7,578.2 L146.7,578.3 L147.7,579.2 L147.7,580.7 L146.1,580.0 L143.9,580.2Z M166.5,578.3 L166.0,576.8 L165.9,575.9 L165.4,574.0 L166.5,572.9 L168.1,574.5 L168.1,576.4 L168.1,577.6 L168.1,579.9Z M149.8,540.7 L151.3,539.6 L152.2,539.1 L153.2,539.1 L153.7,540.2 L153.1,542.0 L151.2,544.1 L150.8,541.6Z M170.0,598.9 L170.2,599.7 L169.7,600.3 L169.4,600.9 L168.6,601.2 L168.5,600.2 L167.8,599.9 L168.4,599.5 L168.7,599.4 L169.3,598.4Z M169.2,631.4 L169.3,629.6 L170.9,629.3 L172.2,630.2 L172.8,631.2 L174.4,632.5 L172.7,632.7 L172.0,634.6 L170.5,632.8Z M150.2,563.3 L150.4,564.5 L149.5,564.9 L148.8,564.4 L147.4,564.4 L147.5,563.1 L148.1,562.3 L149.1,563.2Z M163.8,597.6 L163.5,597.1 L162.7,595.4 L164.5,594.7 L165.2,596.4 L166.0,596.4 L166.5,597.2 L165.3,597.7 L164.7,598.4 L163.7,598.6Z M180.7,603.1 L181.0,603.0 L181.4,602.8 L181.8,603.1 L182.4,603.8 L181.7,604.2 L181.1,604.7 L180.6,604.2 L180.0,603.9 L179.4,603.1Z M163.5,597.7 L163.6,596.3 L164.7,595.6 L165.7,596.9 L166.3,598.4 L165.4,599.3 L164.6,598.2Z M166.4,570.3 L166.4,571.5 L166.0,572.0 L164.9,572.4 L164.2,571.8 L164.9,571.1Z M165.0,545.5 L166.4,544.1 L167.2,544.7 L168.0,545.6 L167.1,547.8 L165.9,548.8 L164.5,550.7 L164.6,548.7 L165.1,547.3Z M258.0,648.7 L260.3,650.4 L260.2,653.5 L259.5,654.5 L258.7,656.0 L257.8,653.3 L256.3,651.8 L256.5,649.6Z M150.2,536.4 L149.8,537.5 L148.4,537.2 L147.6,536.9 L147.5,536.1 L147.0,534.8 L148.3,534.6 L149.2,535.6Z M164.4,527.2 L164.2,526.2 L164.8,524.7 L166.5,525.3 L166.4,527.0 L165.4,528.0Z M224.7,644.1 L224.3,645.7 L222.9,645.6 L220.3,643.3 L220.3,639.9 L223.1,641.2Z M167.4,542.6 L167.0,540.8 L168.3,539.1 L169.8,540.7 L171.1,541.0 L171.5,542.6 L171.1,544.5 L169.3,544.0 L168.5,543.4Z M178.9,596.1 L180.7,596.4 L182.3,597.9 L182.6,600.3 L180.9,601.0 L179.9,601.2 L178.6,601.1 L177.3,599.5 L178.6,598.2Z M164.9,599.2 L164.3,602.3 L162.6,602.9 L161.9,602.6 L160.4,603.8 L160.6,601.5 L160.7,599.2 L161.9,598.3 L162.7,598.3 L164.4,596.9Z M165.0,527.0 L168.0,527.3 L168.9,529.7 L165.3,530.9 L163.0,529.3 L159.5,528.1 L162.6,526.6Z M157.8,598.6 L158.0,596.4 L158.0,595.0 L158.6,594.3 L159.4,595.3 L160.0,596.1 L160.1,597.4 L159.5,597.8 L159.1,597.6Z M163.3,550.5 L163.1,549.0 L164.8,548.5 L165.1,547.3 L166.2,547.8 L168.2,548.1 L167.3,549.7 L166.8,551.2 L165.1,550.5Z M221.1,646.4 L221.9,645.6 L223.2,645.4 L224.3,646.4 L223.7,647.8 L223.4,649.2 L222.1,650.0 L221.1,648.7 L220.8,647.6Z M162.8,574.3 L163.2,578.0 L162.2,580.8 L161.0,581.9 L158.9,583.4 L158.9,579.5 L160.3,575.6Z M168.4,529.6 L167.1,529.0 L167.2,527.7 L167.2,526.4 L168.5,526.8 L170.0,526.8 L171.3,528.5 L170.7,529.9 L170.0,531.1Z M153.4,595.9 L154.1,595.8 L154.8,596.1 L155.9,596.7 L155.0,597.4 L154.3,597.6 L153.2,598.6 L152.2,597.5 L152.6,596.3Z M154.3,537.0 L155.7,536.1 L158.6,537.8 L160.2,541.2 L157.4,541.4 L155.5,540.6 L153.8,539.4 L153.9,538.0Z M173.4,574.8 L171.5,574.5 L168.3,574.9 L167.8,573.0 L171.1,572.6 L173.8,571.9 L174.1,573.6Z M182.0,592.0 L182.6,591.7 L183.4,591.2 L184.0,591.8 L183.9,592.6 L183.2,593.0 L182.3,593.5 L180.9,593.1Z M172.3,544.1 L171.1,545.2 L168.7,544.9 L164.0,545.5 L164.9,543.4 L164.9,541.2 L169.2,542.9 L172.1,542.8Z M143.5,567.8 L143.6,567.3 L143.1,566.2 L144.3,565.6 L145.0,565.8 L146.4,565.3 L146.2,566.6 L145.9,568.2 L144.4,569.0 L143.8,568.2Z M173.5,573.3 L173.2,575.6 L172.3,577.9 L169.5,577.2 L170.6,574.9 L171.0,572.8Z M174.3,611.1 L175.0,609.6 L176.7,609.7 L178.3,609.7 L179.0,611.1 L178.0,612.4 L176.3,611.9Z M240.9,652.4 L237.7,651.5 L239.6,650.7 L241.0,650.7 L242.1,650.8 L243.0,651.4 L243.9,652.0 L246.1,653.8 L243.2,653.2 L241.9,653.7Z M169.8,608.3 L172.2,606.7 L173.7,607.6 L173.6,609.2 L173.2,610.5 L172.0,612.5 L170.4,611.8 L167.4,612.8 L168.3,610.3Z M217.7,637.3 L216.5,637.1 L214.9,638.2 L214.3,636.4 L214.5,634.9 L215.6,634.4 L216.9,632.6 L217.0,635.2 L219.6,636.2Z M161.2,585.1 L161.7,586.6 L160.6,587.5 L159.6,586.9 L159.7,586.1 L160.0,585.4Z M159.0,541.0 L157.8,538.6 L159.2,537.6 L160.6,538.9 L161.2,540.3 L161.6,542.4 L160.2,542.5Z M152.1,568.1 L152.1,566.9 L153.3,567.2 L154.5,566.3 L154.2,567.7 L154.4,568.5 L153.6,568.8 L152.8,569.5 L152.4,568.8Z M172.4,597.4 L171.4,595.9 L172.2,595.2 L173.1,596.2 L174.3,596.7 L173.5,597.4 L173.5,599.5Z M174.8,571.5 L175.5,570.9 L179.0,570.2 L181.3,572.5 L177.7,573.3 L175.1,572.5Z M158.3,537.4 L159.6,537.5 L159.3,539.7 L159.4,541.8 L158.3,541.4 L157.7,540.9 L157.7,539.6Z M161.1,550.8 L158.5,549.8 L158.3,547.1 L161.7,546.2 L165.1,547.3 L163.8,549.5 L162.7,550.1Z M191.5,641.5 L192.9,638.1 L194.5,636.7 L197.1,633.3 L198.8,634.9 L195.6,638.0 L194.3,640.7Z M184.0,627.9 L182.8,626.8 L184.3,624.6 L186.2,622.5 L186.2,625.5 L186.2,627.9 L184.5,629.8Z M149.2,533.4 L149.0,534.9 L147.7,533.0 L146.9,531.6 L146.3,529.7 L147.5,529.4 L148.6,531.8 L150.0,532.9Z M155.5,605.7 L153.8,606.7 L152.9,606.4 L151.8,606.1 L152.4,604.5 L154.2,604.8 L155.4,604.7Z M170.7,559.6 L171.5,562.3 L169.8,561.3 L167.8,562.2 L167.0,558.6 L167.5,556.1 L169.1,556.1 L171.2,556.5Z M159.0,540.3 L158.5,538.8 L155.4,538.0 L158.2,536.3 L160.7,534.6 L162.0,536.4 L162.2,537.2 L162.3,538.0 L161.1,538.5Z M158.4,590.0 L158.7,590.7 L159.3,591.6 L158.2,592.1 L156.9,592.7 L156.1,591.6 L156.3,590.9 L155.7,589.6 L157.3,589.9Z M199.7,636.4 L200.0,636.8 L200.6,637.7 L199.6,638.1 L198.5,638.1 L198.2,637.3 L197.4,636.5 L198.3,635.8 L199.3,635.7Z M175.6,605.1 L176.3,604.5 L177.1,604.8 L178.4,604.5 L177.9,605.6 L178.2,606.8 L176.8,607.1 L175.5,607.5 L174.8,606.8 L173.7,605.9Z M169.8,604.2 L168.7,605.2 L167.1,605.2 L166.1,603.8 L165.8,602.1 L167.5,601.6 L169.2,600.9 L168.8,603.0Z M143.7,560.8 L143.3,562.7 L144.3,563.1 L144.4,565.0 L142.6,565.5 L141.5,565.4 L141.0,564.7 L139.6,564.0 L141.7,563.0 L142.2,560.7Z M183.4,596.0 L179.9,593.7 L179.5,591.8 L180.2,590.5 L182.8,591.1 L186.6,592.8 L186.4,595.2Z M202.0,632.9 L202.3,629.9 L204.7,630.2 L205.6,631.8 L206.0,632.6 L206.7,635.4 L204.8,633.2Z M192.8,597.3 L195.8,596.4 L194.2,601.0 L191.7,603.7 L191.4,599.8 L191.7,597.8Z M183.9,639.5 L186.0,638.6 L184.9,637.0 L186.7,637.0 L188.7,638.3 L191.6,639.9 L190.0,640.7 L188.6,640.8 L187.0,640.4Z M169.7,574.0 L167.2,575.4 L165.0,576.6 L165.5,574.4 L165.0,573.1 L166.7,571.9 L168.9,570.2 L169.8,571.7Z M167.5,573.6 L166.6,575.3 L165.1,574.9 L163.9,574.8 L163.4,573.8 L165.2,572.0 L168.6,569.7 L168.3,572.2Z M231.5,650.7 L231.0,652.4 L229.5,653.0 L227.6,651.6 L228.3,649.8 L229.7,649.9Z M156.1,605.6 L156.6,607.1 L156.7,608.5 L156.3,610.2 L155.0,609.9 L154.9,607.6 L154.1,605.6 L155.1,605.2Z M242.1,661.3 L240.9,661.1 L241.5,660.1 L241.9,659.4 L242.4,658.4 L243.6,658.5 L243.2,660.1 L243.7,660.6 L243.3,661.2 L242.7,661.5Z M174.6,635.0 L174.7,633.7 L175.4,632.8 L176.9,631.1 L177.0,633.2 L177.2,634.1 L176.3,635.4Z M241.6,650.8 L241.9,647.7 L242.4,645.7 L243.7,647.3 L245.1,649.7 L243.6,651.2Z M256.1,657.4 L257.5,657.0 L259.1,657.6 L259.8,658.7 L260.4,659.7 L259.8,660.4 L258.9,661.2 L256.6,661.4 L256.0,659.5 L255.9,658.5Z M150.6,542.2 L150.6,543.1 L149.7,542.5 L148.1,542.1 L148.1,540.9 L148.7,540.3 L149.7,540.4 L151.1,540.6 L151.2,541.9Z M179.6,640.6 L179.3,638.0 L181.7,637.8 L183.8,638.7 L182.6,641.7 L180.4,642.1Z M176.5,535.2 L179.7,533.8 L181.7,535.1 L186.1,535.6 L181.0,536.9 L179.6,538.4 L176.8,538.2 L173.0,537.2Z M225.5,639.2 L227.9,639.3 L227.4,641.1 L225.4,642.2 L223.2,641.7 L223.9,640.2 L223.6,638.6Z M253.4,655.1 L252.6,656.6 L250.9,656.0 L248.9,654.9 L248.6,652.2 L251.5,652.9Z M147.0,541.5 L148.8,540.4 L150.0,540.4 L153.3,540.3 L154.8,543.6 L153.1,544.7 L150.5,542.7Z M190.3,602.8 L191.5,602.5 L192.1,603.9 L190.3,604.8 L189.0,605.6 L189.0,604.0Z M206.7,651.2 L206.8,649.5 L207.8,646.6 L209.7,646.1 L209.6,648.9 L209.7,651.0 L208.3,653.6 L207.0,652.4Z M152.1,594.4 L153.5,593.5 L155.8,594.0 L156.8,596.0 L155.5,597.3 L154.9,599.2 L152.6,598.4 L150.6,597.2 L150.7,595.3Z M178.2,618.0 L177.1,620.1 L176.6,618.3 L175.7,617.8 L176.5,616.6 L176.5,614.4 L177.9,615.8 L179.0,615.2 L180.9,615.5 L180.1,617.7Z M180.2,536.5 L178.7,537.2 L178.4,535.6 L175.8,534.8 L177.8,534.2 L178.9,533.7 L180.7,533.7 L183.3,534.8 L180.7,535.8Z M153.0,601.6 L151.0,602.6 L149.0,603.2 L148.8,602.0 L146.1,601.8 L149.5,600.3 L150.3,598.6 L152.1,598.5 L154.6,598.1 L153.5,600.1Z M217.0,647.2 L214.8,647.9 L213.9,648.3 L212.2,647.8 L212.0,646.1 L213.1,643.9 L215.7,645.2Z M174.4,579.4 L175.5,577.8 L176.5,574.8 L177.3,577.8 L179.6,577.3 L178.1,579.6 L177.2,580.6 L175.9,582.4 L175.8,580.0Z M162.1,560.7 L163.8,560.1 L164.5,561.6 L166.3,562.4 L165.3,564.1 L163.5,565.1 L162.5,563.4 L162.6,562.3Z M175.0,619.5 L174.5,620.4 L173.6,620.3 L173.1,619.7 L172.4,619.1 L172.4,618.1 L173.2,617.7 L173.9,617.0 L174.5,617.7 L175.5,618.4Z M187.3,596.0 L184.7,594.7 L186.4,594.2 L186.4,592.3 L188.9,594.0 L191.4,594.8 L191.7,596.5 L191.8,598.0 L189.6,597.6 L188.1,596.9Z M169.7,591.8 L168.9,593.6 L168.5,592.4 L168.6,591.5 L169.5,590.1 L171.1,589.6Z M238.3,648.1 L239.6,649.9 L240.7,651.3 L241.4,653.8 L239.6,653.3 L238.2,652.9 L238.1,651.0 L237.4,649.3Z M241.0,656.2 L243.0,655.6 L243.3,652.8 L245.0,656.1 L245.5,657.9 L245.6,660.3 L243.5,658.4Z M156.0,581.4 L155.4,580.1 L156.9,580.5 L157.8,580.1 L158.2,580.8 L158.0,582.0 L156.8,582.2 L155.6,582.5Z M163.3,543.5 L162.4,546.6 L158.5,548.0 L157.4,545.9 L158.6,542.9 L161.9,541.7 L165.6,538.6 L166.1,541.1Z M198.9,634.8 L197.2,636.4 L195.5,636.2 L194.2,635.0 L195.9,633.8 L196.9,631.3 L197.4,633.5Z M184.8,616.7 L185.4,617.4 L186.5,617.7 L185.4,618.6 L184.8,619.1 L183.9,619.5 L183.8,618.7 L182.8,618.2 L183.1,616.7Z M190.4,606.2 L189.9,607.7 L188.4,607.3 L186.6,607.7 L188.0,605.9 L186.8,604.2 L188.8,604.4 L190.4,603.5 L191.5,604.6Z M171.6,608.2 L171.6,607.1 L172.8,606.9 L174.1,606.2 L174.2,607.4 L173.8,608.6 L172.8,608.8 L171.9,609.7 L170.9,609.6Z M205.5,639.3 L205.5,636.9 L207.2,639.3 L207.5,640.5 L208.4,641.5 L208.3,642.5 L207.1,642.2 L205.8,642.9 L205.1,641.0 L204.3,639.6Z M165.2,571.9 L164.6,571.8 L163.5,572.0 L163.3,571.1 L163.5,569.8 L165.1,569.3 L166.0,569.6 L166.7,569.7 L166.1,570.6 L166.3,571.5Z M156.7,590.3 L156.4,588.4 L156.3,586.4 L158.2,587.7 L159.4,587.5 L159.4,589.2 L161.0,591.3 L160.2,593.1 L158.2,591.2Z M190.8,632.0 L191.8,630.8 L193.0,631.6 L194.1,631.8 L194.3,633.0 L193.0,633.1 L192.4,633.2 L190.9,633.4Z M261.5,661.7 L263.0,659.8 L263.3,657.8 L264.5,658.2 L265.8,657.6 L265.7,659.3 L266.2,660.8 L264.9,661.9 L264.0,661.6 L263.4,661.4Z M191.3,624.9 L190.1,624.8 L188.4,624.0 L189.0,621.8 L190.6,620.7 L192.2,621.7 L192.7,623.7Z M166.3,578.7 L167.0,579.7 L168.4,581.6 L163.3,583.2 L160.9,581.4 L162.3,578.6Z M166.3,528.4 L166.6,526.5 L168.0,526.5 L169.4,525.5 L168.4,527.6 L169.1,528.6 L167.9,530.3 L166.4,531.2 L166.6,529.2Z M161.3,616.4 L159.8,616.9 L160.1,615.1 L161.1,613.4 L162.3,613.7 L163.6,613.7 L163.5,615.5 L162.1,616.3Z M167.2,566.5 L169.5,564.0 L171.8,565.5 L174.9,566.0 L172.9,568.6 L170.2,570.3 L167.7,569.0Z M153.5,546.2 L152.7,545.1 L155.3,544.5 L156.7,542.5 L157.6,543.6 L157.8,544.3 L158.2,545.2 L157.8,547.2 L155.2,547.5 L155.0,546.0Z M277.8,661.7 L279.1,663.0 L279.0,665.4 L276.5,664.7 L275.6,663.8 L274.1,662.9 L274.8,661.3 L276.5,660.2Z M156.9,587.0 L155.6,588.5 L154.5,589.6 L154.1,588.0 L154.1,586.7 L153.3,584.3 L154.8,581.5 L155.7,584.4 L156.9,584.7Z M172.3,576.4 L174.9,577.5 L175.1,579.3 L172.4,578.8 L170.1,577.5 L169.7,576.1 L170.1,575.0Z M218.9,653.6 L218.1,654.1 L217.9,655.1 L217.1,654.3 L215.3,654.3 L216.7,653.3 L216.1,651.7 L217.4,651.8 L218.4,652.6Z M174.7,542.2 L176.9,540.3 L179.5,542.2 L178.1,544.4 L177.6,546.5 L176.6,544.4Z M194.1,622.7 L194.0,624.6 L192.6,625.2 L191.2,625.5 L191.2,623.5 L192.9,622.2 L193.7,621.2 L193.7,622.2Z M229.2,653.5 L228.6,653.1 L227.4,652.9 L227.9,651.9 L228.4,651.8 L228.7,651.1 L229.3,651.7 L230.3,652.4 L229.4,652.8Z M259.0,656.9 L257.9,655.8 L260.3,655.2 L262.2,654.7 L263.1,655.8 L262.8,657.9 L259.1,659.2Z M177.6,543.4 L175.6,543.4 L176.4,541.9 L178.1,541.9 L180.0,542.0 L179.4,543.4Z M190.6,617.2 L190.3,618.9 L191.0,620.4 L188.6,620.4 L187.2,620.7 L185.2,620.3 L185.3,618.8 L187.4,618.5 L188.3,616.8Z M171.0,553.2 L170.5,553.4 L169.2,553.6 L169.3,552.5 L169.9,551.9 L170.8,552.1 L171.6,552.6Z M246.7,649.1 L251.4,651.2 L251.6,654.0 L251.2,654.9 L248.6,655.9 L244.6,651.4Z M161.1,546.5 L160.2,546.6 L159.3,548.9 L158.6,546.3 L159.2,544.6 L159.5,543.4 L160.5,541.9 L160.5,544.8Z M181.2,592.4 L179.0,591.6 L177.4,590.8 L177.1,589.5 L178.5,589.1 L181.6,590.5Z M174.7,545.9 L173.4,545.4 L174.2,544.5 L174.7,544.0 L175.3,542.7 L177.0,542.9 L176.4,544.8 L176.8,545.8 L176.9,547.6 L175.3,546.4Z M159.5,594.4 L159.5,593.0 L160.5,593.4 L161.7,593.7 L161.5,595.2 L162.2,596.5 L161.4,597.1 L160.5,596.8 L159.6,596.3 L158.6,595.2Z M229.4,645.1 L228.5,646.8 L227.2,647.8 L225.6,649.0 L223.3,649.0 L222.4,647.9 L223.6,646.7 L224.6,645.5 L226.5,645.4Z M177.6,584.2 L178.6,586.7 L178.4,589.2 L179.6,592.3 L178.6,595.8 L176.9,594.0 L175.0,594.1 L174.3,590.4 L175.2,587.2 L175.9,583.6Z M161.5,537.6 L159.9,537.5 L158.8,536.0 L160.1,535.0 L160.3,533.9 L161.6,534.3 L162.8,534.4 L162.4,535.7 L164.0,537.1 L162.1,536.6Z M192.8,610.1 L192.5,610.9 L191.4,611.2 L191.4,609.7 L191.1,608.4 L192.1,608.7 L192.9,608.4 L193.7,609.5Z M175.5,585.3 L176.3,585.7 L177.3,587.1 L175.5,587.3 L174.6,587.1 L174.3,586.5 L173.1,585.8 L173.8,584.9 L174.8,583.7Z M182.5,641.9 L180.0,641.3 L180.5,639.9 L182.2,638.7 L185.5,640.7 L184.5,642.3Z M179.8,595.9 L179.0,599.5 L178.0,597.3 L177.7,596.5 L178.0,594.7 L179.7,593.0 L182.3,592.1Z M177.0,629.3 L175.2,629.6 L173.9,628.8 L172.7,627.8 L173.5,626.5 L175.9,626.7 L178.0,627.1 L179.6,628.5Z M158.5,601.2 L159.9,603.5 L155.9,604.3 L153.9,604.3 L151.6,602.9 L155.0,602.0Z M164.5,579.1 L165.7,577.8 L165.2,579.5 L165.1,580.0 L165.2,581.3 L164.3,580.8 L164.0,580.6 L163.8,580.1 L164.0,579.4Z M229.0,645.3 L229.2,642.9 L230.7,642.1 L232.0,642.5 L232.7,643.9 L231.5,645.5Z M154.5,531.1 L152.7,531.4 L151.1,532.3 L149.5,531.3 L151.3,530.2 L152.5,530.0 L154.0,530.0Z M266.7,660.2 L265.1,659.0 L266.0,657.5 L267.5,657.2 L269.4,657.2 L270.3,659.3 L269.0,660.6 L267.8,660.5Z M168.0,575.6 L168.8,576.1 L168.7,577.5 L167.6,577.6 L166.7,576.7 L167.2,575.5Z M191.1,601.6 L189.1,601.5 L188.6,599.0 L188.1,596.1 L190.6,597.0 L191.3,599.3 L192.3,601.0Z M157.3,528.3 L157.3,526.5 L158.8,527.4 L160.3,527.1 L160.9,529.2 L159.5,530.7 L157.3,530.8Z M159.8,588.3 L159.9,589.2 L158.7,590.1 L158.4,591.2 L157.5,590.7 L156.4,591.2 L155.0,591.2 L156.6,589.9 L157.0,588.5 L159.0,587.5Z M164.4,577.0 L166.2,579.3 L168.4,580.9 L166.6,581.2 L165.4,582.2 L163.9,579.4Z M162.0,521.4 L161.3,522.3 L161.6,523.0 L160.7,524.3 L158.4,524.1 L156.4,523.5 L157.9,522.2 L157.8,520.6 L160.6,520.6Z M163.3,526.9 L162.0,526.7 L161.5,525.7 L161.8,524.8 L162.3,523.5 L163.9,523.4 L165.4,523.6 L166.2,524.6 L164.5,525.5 L164.6,526.7Z M174.6,529.8 L175.8,534.4 L173.6,536.0 L170.5,532.8 L168.4,527.8 L171.2,526.5Z M179.0,435.3 L180.0,434.4 L180.5,434.1 L181.3,434.0 L181.6,435.0 L181.1,436.1 L180.0,436.0Z M185.4,435.5 L184.9,434.2 L185.7,433.3 L186.9,432.2 L187.9,433.3 L186.5,434.3Z M185.7,450.1 L186.0,449.9 L186.6,449.0 L187.4,450.1 L188.7,451.0 L188.5,451.9 L187.3,452.4 L185.4,451.7 L183.9,450.5Z M180.7,522.2 L180.2,521.6 L179.4,521.0 L180.0,519.8 L181.2,519.4 L182.2,519.4 L182.3,520.3 L182.4,520.7 L182.9,521.8 L181.7,522.2Z M177.5,514.6 L179.7,515.1 L180.8,514.3 L181.7,516.4 L184.6,517.5 L182.1,517.5 L182.2,518.3 L181.3,519.3 L179.3,517.8 L179.2,516.5Z M180.0,511.8 L179.5,512.3 L179.1,513.4 L178.1,512.3 L177.9,511.8 L178.0,511.4 L178.1,509.9 L179.5,511.0Z M177.4,516.1 L177.1,516.6 L176.4,517.6 L175.6,516.3 L175.7,515.3 L176.3,515.0 L176.9,515.0 L177.9,515.2Z M248.1,630.7 L248.9,630.3 L249.3,631.2 L249.3,631.8 L249.4,632.7 L248.4,633.4 L248.1,632.0 L247.5,631.3Z M200.2,608.4 L199.2,609.5 L198.3,608.9 L197.7,608.0 L197.7,606.6 L198.3,605.1 L199.0,606.4 L200.4,606.2Z M202.7,615.5 L201.9,616.4 L201.1,615.9 L200.3,614.9 L200.4,612.9 L202.3,612.9Z M239.5,632.2 L240.9,632.9 L241.1,634.1 L240.5,634.6 L239.9,635.7 L238.4,634.6 L238.0,633.3 L237.7,631.7Z M231.5,629.8 L230.7,627.9 L231.9,626.8 L232.3,624.3 L232.9,626.7 L233.7,627.7 L233.7,630.2 L232.5,630.0Z M258.9,629.9 L257.6,629.8 L257.5,628.5 L258.1,627.4 L259.1,627.6 L260.1,627.5 L260.0,628.6 L260.1,629.8Z M222.1,634.3 L222.7,633.4 L223.5,633.6 L223.4,634.5 L223.6,635.6 L222.4,636.2 L221.9,635.2Z M232.0,621.6 L232.0,623.4 L230.4,624.0 L228.7,624.0 L228.0,622.7 L229.5,622.0Z M203.6,621.8 L202.3,622.0 L203.1,621.0 L202.6,619.7 L203.8,620.5 L205.0,620.2 L204.3,621.2 L204.0,621.5Z M254.2,617.1 L253.8,616.3 L254.2,615.6 L253.6,614.4 L254.7,614.8 L255.5,614.6 L255.5,615.5 L256.5,616.1 L256.0,616.8 L255.2,617.5Z" fill="#fff" stroke="#000" stroke-width="1.25" stroke-linejoin="round"/>
<path d="M167.4,459.9 L167.1,460.7 L166.6,460.9 L165.5,460.6 L165.8,459.4 L166.5,458.6Z M176.7,469.1 L175.9,469.1 L175.1,468.5 L176.3,468.2 L176.6,468.0 L177.2,467.8 L177.5,468.3 L178.0,468.9 L177.3,469.3Z M166.5,490.5 L165.4,490.9 L165.4,489.8 L166.1,488.8 L167.1,487.6 L167.3,488.8 L168.4,489.0 L167.1,489.7Z M153.5,499.0 L152.5,500.0 L151.2,500.6 L150.2,499.9 L149.2,498.9 L150.6,498.1 L152.2,498.0Z M167.4,499.6 L166.6,499.2 L166.9,498.2 L168.4,498.2 L169.6,498.4 L169.1,499.3 L168.6,499.6 L168.0,499.8Z M164.8,488.2 L163.6,488.1 L163.4,487.0 L164.4,486.7 L165.3,486.2 L165.3,487.3 L165.3,487.8Z M172.4,492.4 L171.6,493.0 L171.2,492.0 L170.9,490.9 L171.7,490.4 L172.5,490.1 L172.5,491.2 L173.0,491.8Z M170.7,497.8 L169.6,497.5 L168.7,497.8 L167.8,496.9 L168.5,496.4 L167.3,495.2 L168.4,495.0 L169.3,496.2 L170.8,496.2 L170.5,497.0Z M171.4,504.2 L172.1,503.8 L172.5,504.8 L173.6,505.7 L172.9,506.7 L171.8,506.3 L170.6,506.0 L170.3,504.6Z M172.9,477.0 L171.7,477.5 L170.9,478.0 L169.2,478.5 L169.4,477.4 L170.0,476.8 L169.7,475.8 L171.2,475.5 L172.2,475.9 L171.9,476.6Z M173.2,470.8 L173.2,469.7 L172.6,469.2 L173.0,468.3 L173.7,468.9 L174.0,469.1 L174.8,469.7 L174.2,470.7Z M170.5,461.8 L169.6,461.9 L169.1,462.4 L168.1,462.5 L168.0,461.6 L168.5,460.9 L169.2,460.7 L169.6,460.9 L170.6,460.9Z M168.1,463.4 L168.9,462.7 L169.3,462.3 L170.5,462.2 L171.9,462.6 L172.7,463.4 L171.6,463.8 L170.8,463.9 L169.8,463.8Z M165.0,483.9 L165.5,484.8 L166.6,485.6 L165.6,486.1 L165.2,486.3 L164.4,486.6 L164.7,485.3 L164.1,483.9Z M171.1,504.3 L170.5,504.8 L170.3,504.0 L170.0,503.4 L170.3,502.7 L171.3,502.3 L171.5,503.3 L171.8,504.0Z M166.0,464.9 L165.0,465.5 L163.9,465.3 L164.3,464.4 L164.4,463.4 L165.3,463.9Z M174.4,473.7 L175.5,473.3 L176.1,473.5 L176.6,473.3 L177.1,473.7 L176.9,474.5 L176.2,474.6 L175.5,475.1 L174.6,474.7Z M154.2,476.4 L154.4,475.5 L155.3,475.1 L156.6,475.1 L157.9,476.0 L156.1,476.5 L155.0,477.5Z M160.9,496.4 L161.4,497.1 L160.2,498.1 L158.3,498.4 L158.2,497.3 L157.2,497.1 L156.8,496.1 L158.7,495.5 L160.5,495.6Z M164.6,488.3 L163.1,487.7 L162.7,486.6 L162.5,486.1 L162.7,485.8 L163.2,485.6 L163.9,486.1 L164.3,486.6 L164.1,486.9Z M164.9,483.5 L163.6,483.8 L162.8,484.5 L162.2,484.1 L162.6,483.4 L162.2,483.1 L162.8,482.6 L163.7,482.0 L164.2,482.5 L165.0,482.7Z M170.7,468.4 L170.1,468.4 L169.1,468.0 L169.0,466.9 L169.6,466.8 L169.9,466.6 L170.4,466.7 L171.6,467.3 L172.1,468.7Z M173.3,468.6 L173.0,469.3 L172.2,470.1 L171.7,468.9 L171.1,468.0 L171.9,467.6 L172.4,467.1 L172.9,467.8Z M171.4,463.7 L169.8,464.0 L169.8,462.9 L169.1,462.2 L170.6,461.6 L171.6,461.6 L172.5,461.4 L173.0,461.8 L173.9,462.4 L172.9,463.4Z M184.4,483.5 L184.0,484.5 L184.6,486.0 L183.6,485.6 L183.0,484.9 L181.7,484.1 L182.0,482.8 L182.5,481.7 L183.5,483.1Z M190.3,461.5 L189.8,461.8 L188.8,462.1 L188.7,461.1 L188.4,460.1 L189.5,460.1 L190.1,460.4 L191.0,460.9Z M189.2,474.3 L190.8,475.2 L192.6,475.2 L192.8,476.2 L192.3,477.4 L190.2,477.0 L189.9,475.9 L187.6,475.0Z M189.0,487.9 L189.9,487.5 L190.0,488.6 L190.0,489.1 L190.3,490.0 L189.6,490.0 L188.8,491.0 L188.4,490.3 L188.4,489.2Z M188.4,501.9 L187.6,503.0 L188.2,503.6 L186.9,504.2 L185.8,504.3 L184.4,504.3 L184.9,503.4 L185.6,502.7 L186.7,502.2Z M191.8,498.4 L192.4,499.6 L191.7,500.5 L190.8,501.0 L190.0,500.3 L189.5,499.2 L190.7,499.1Z M188.4,479.1 L188.1,477.5 L189.1,477.8 L189.4,479.1 L189.5,479.8 L189.2,480.2 L188.5,481.2 L188.5,479.6Z M187.9,475.1 L187.9,476.1 L187.8,476.5 L187.2,477.1 L185.7,476.7 L185.7,475.9 L184.6,474.9 L186.2,474.8Z M182.2,463.5 L181.8,462.4 L182.1,461.7 L182.3,461.4 L182.4,460.1 L182.9,461.5 L183.7,461.7 L183.8,462.9 L183.5,463.5 L182.9,463.8Z M222.8,650.3 L221.1,651.7 L219.3,652.3 L219.6,650.7 L220.4,649.9 L221.9,649.0Z M148.8,562.2 L148.7,563.1 L148.3,563.6 L147.7,563.9 L146.6,563.7 L146.4,562.5 L146.4,561.8 L147.0,561.7 L147.8,561.2Z M175.8,568.3 L176.6,568.8 L176.6,569.5 L177.1,570.4 L176.1,570.9 L175.1,570.8 L175.5,569.7 L175.2,569.1Z M179.1,639.5 L179.1,638.3 L180.5,638.2 L180.4,639.4 L180.2,639.8 L179.7,640.0Z M190.4,626.4 L190.7,625.8 L191.4,624.9 L191.4,626.2 L192.2,626.6 L191.2,627.0 L190.9,627.9 L190.1,628.1 L189.7,627.3Z M143.2,564.4 L143.9,563.5 L144.1,564.8 L144.1,565.8 L143.8,566.6 L143.5,568.0 L143.1,566.5 L142.5,566.5 L142.7,565.6 L142.6,564.6Z M161.8,551.9 L160.9,552.2 L160.1,551.8 L160.2,551.1 L160.5,550.7 L160.8,550.6 L161.3,550.0 L162.2,550.3 L161.7,551.1Z M149.7,597.1 L150.7,597.7 L151.1,598.0 L151.6,598.2 L152.7,599.7 L151.3,599.2 L151.2,600.7 L150.1,600.0 L150.0,598.4Z M178.7,603.0 L179.0,604.2 L178.0,605.4 L177.1,604.8 L176.7,604.3 L176.5,603.5 L177.3,603.0 L178.1,602.3Z M178.7,593.7 L180.1,592.9 L179.5,595.1 L178.7,596.0 L177.6,596.2 L177.4,594.2Z M143.6,555.5 L142.7,555.0 L143.1,553.8 L144.4,553.8 L144.6,555.1 L144.4,556.1Z M158.2,535.9 L157.8,536.2 L157.4,536.5 L156.5,536.2 L156.8,534.9 L157.2,534.4 L157.6,533.1 L158.4,533.7 L159.4,534.8Z M153.5,602.9 L154.0,603.2 L154.2,603.7 L153.9,604.1 L153.7,604.7 L153.2,604.2 L152.9,604.0 L152.7,603.5 L153.1,603.3Z M202.4,641.3 L202.9,642.5 L202.0,642.2 L201.4,641.9 L201.1,641.1 L201.2,640.3 L201.9,640.2 L202.5,640.5Z M209.0,642.1 L208.3,641.6 L207.9,640.8 L207.6,639.8 L207.8,638.6 L208.8,638.6 L209.9,639.5 L210.5,640.8 L209.7,641.4 L209.4,641.8Z M152.5,606.9 L153.2,606.0 L153.8,607.0 L154.8,607.4 L154.1,608.5 L152.9,608.6 L152.0,608.0Z M179.3,617.8 L178.7,616.7 L179.8,616.2 L180.5,617.3 L181.1,618.1 L180.3,618.8Z M180.1,532.3 L181.0,531.8 L181.2,533.6 L181.5,535.3 L180.5,535.1 L180.1,533.9 L180.1,533.2Z M231.1,649.4 L231.6,650.3 L231.8,650.8 L231.2,651.7 L230.0,651.9 L230.0,651.1 L230.2,650.5Z M162.3,605.5 L162.0,606.1 L161.4,606.5 L160.8,605.5 L161.0,603.9 L162.4,603.7Z M199.2,636.3 L199.0,637.3 L198.3,636.3 L197.9,636.5 L197.5,636.0 L197.3,635.2 L197.8,634.7 L198.3,634.5 L198.7,635.0 L199.3,635.4Z M192.3,606.1 L193.5,606.0 L193.9,607.6 L192.6,608.0 L191.7,608.1 L191.6,607.0Z M193.1,630.1 L193.7,629.5 L193.9,628.6 L194.9,628.4 L195.1,629.3 L195.8,630.0 L195.0,630.5 L194.4,630.9 L193.5,631.0Z M149.8,556.3 L150.3,556.5 L151.5,556.0 L150.9,557.1 L150.8,558.1 L149.9,558.0 L149.6,557.7 L149.4,557.4 L149.5,557.0Z M148.4,530.0 L148.6,528.9 L149.1,528.0 L150.0,528.9 L150.8,528.7 L151.3,529.5 L151.1,530.6 L150.1,530.8 L149.5,530.1Z M242.3,652.1 L243.4,651.7 L242.8,652.9 L242.7,653.3 L242.3,654.7 L241.8,653.3 L241.4,652.7 L241.7,652.1Z M188.4,631.6 L188.6,632.9 L187.7,633.6 L186.9,633.2 L186.7,632.7 L186.0,632.1 L186.5,631.5 L187.4,631.0Z M199.7,648.5 L198.5,649.2 L197.8,648.6 L196.9,647.9 L198.3,647.2 L199.1,645.6 L200.2,646.2 L200.7,647.3Z M154.9,594.8 L154.3,595.3 L154.1,596.6 L153.4,595.7 L152.9,595.3 L152.2,594.4 L153.0,593.7 L153.8,594.4 L154.8,593.9Z M179.2,617.5 L180.4,618.0 L179.1,618.8 L178.3,619.3 L176.8,619.4 L177.4,618.4 L177.9,617.4Z M183.6,622.8 L182.9,623.4 L182.6,622.4 L182.4,621.7 L183.0,621.3 L183.3,621.1 L183.6,621.0 L184.0,621.4 L184.1,622.2Z M156.9,611.8 L157.2,612.7 L158.0,612.7 L157.9,613.3 L157.5,613.9 L156.8,614.4 L156.0,614.4 L155.9,613.6 L155.8,613.0 L156.0,612.1Z M198.9,637.7 L197.8,637.7 L198.6,637.1 L198.9,636.9 L199.3,636.2 L199.7,636.7 L199.8,637.2 L200.2,637.7 L199.8,638.2 L199.1,638.4Z M159.0,585.6 L158.0,585.5 L157.6,584.8 L158.8,584.3 L159.9,583.4 L160.7,584.2 L161.8,584.8 L160.1,585.3 L159.7,585.9Z M144.8,554.1 L144.9,553.1 L145.0,552.2 L145.8,552.4 L146.2,552.0 L146.3,552.5 L146.5,553.0 L146.3,554.0 L145.5,554.2Z M148.6,526.1 L149.3,525.7 L149.7,526.4 L149.4,526.9 L149.0,527.3 L148.1,527.6 L147.8,526.6Z M146.0,560.3 L145.8,561.4 L143.9,561.2 L143.0,560.1 L143.0,558.9 L144.8,559.1 L146.2,559.4Z M170.6,571.7 L171.8,572.6 L170.2,573.1 L168.1,573.9 L167.5,572.5 L169.0,572.1Z M169.6,580.3 L170.1,580.7 L170.6,581.2 L170.0,581.8 L169.3,582.1 L168.8,581.8 L167.7,582.0 L167.7,581.2 L168.3,580.7 L168.7,579.9Z M163.7,583.2 L164.5,582.9 L164.8,582.5 L165.8,581.9 L165.6,583.2 L166.3,583.8 L165.3,583.8 L164.8,584.7 L163.6,584.2Z M165.2,624.1 L166.3,622.5 L167.3,623.0 L167.5,623.7 L167.8,624.9 L166.4,625.4 L165.0,626.7 L165.3,625.2Z M152.2,541.7 L152.7,541.0 L153.7,541.5 L153.8,542.5 L153.6,543.6 L152.6,542.8Z M159.8,578.0 L158.8,578.9 L157.1,578.1 L156.4,576.9 L156.5,575.7 L158.3,576.7Z M278.4,665.4 L277.0,666.1 L276.6,665.5 L276.3,664.8 L277.5,664.0 L278.0,664.6Z M164.1,583.4 L163.9,582.3 L164.8,582.6 L165.5,582.3 L166.5,583.3 L166.1,584.3 L165.7,584.8 L165.1,585.4 L164.4,584.4Z M190.9,629.0 L190.2,629.7 L189.1,629.6 L188.5,628.6 L189.1,627.4 L190.3,627.2 L190.7,628.2Z M153.5,595.6 L153.8,596.3 L153.0,596.9 L152.2,596.9 L151.1,596.8 L152.0,596.1 L152.6,595.7Z M277.3,664.0 L278.0,664.4 L277.6,665.5 L275.8,666.4 L275.9,665.2 L276.1,664.3Z M202.4,640.8 L203.4,640.2 L204.2,640.9 L204.8,641.6 L205.0,642.4 L204.1,642.5 L203.9,643.8 L203.0,643.4 L203.0,642.4 L202.1,641.7Z M167.4,605.6 L166.8,604.1 L167.8,603.4 L168.2,605.1 L168.8,606.5 L167.9,607.6Z M170.1,559.5 L169.8,559.7 L169.5,559.5 L169.0,559.0 L169.5,558.6 L170.0,558.9 L171.0,559.0Z M160.1,577.6 L160.6,578.3 L159.4,578.7 L158.1,579.5 L156.9,579.0 L158.0,578.0 L158.1,577.4 L158.9,577.0 L159.9,577.0Z M162.8,559.0 L163.8,558.7 L164.1,560.1 L164.8,561.4 L164.0,562.5 L163.0,561.4 L162.2,561.0 L161.7,559.5Z M257.8,658.6 L258.9,658.7 L258.7,659.5 L258.6,659.8 L258.4,660.3 L257.6,659.8 L257.0,659.4 L257.0,659.0 L257.2,658.7Z M168.4,602.8 L169.5,602.3 L170.4,603.1 L171.6,603.3 L171.8,604.7 L171.1,605.0 L170.6,606.3 L169.9,604.4Z M211.0,633.6 L211.0,634.9 L210.5,635.4 L209.9,635.4 L209.2,634.5 L210.0,633.9Z M245.4,646.7 L244.4,647.6 L243.7,647.8 L242.8,648.0 L242.0,647.1 L242.7,645.9 L243.7,645.2 L244.8,645.6Z M170.1,587.9 L169.2,588.3 L168.5,587.9 L167.6,587.6 L167.5,586.5 L168.3,586.1 L169.2,586.0 L169.9,586.8Z M160.2,606.8 L161.4,606.9 L162.4,606.1 L163.5,607.1 L163.1,608.0 L162.5,608.6 L161.3,608.5 L160.1,607.8Z M164.5,538.6 L164.2,539.6 L163.3,539.4 L163.1,538.6 L162.8,538.1 L163.3,537.9 L163.9,537.1 L164.7,537.7Z M168.6,627.0 L169.3,626.2 L170.0,626.3 L170.5,626.6 L170.7,627.1 L170.4,627.6 L170.2,628.5 L169.5,628.2 L168.8,627.9Z M157.9,601.8 L159.4,602.7 L160.0,602.9 L161.9,603.8 L161.4,604.9 L160.0,604.0 L158.9,604.6 L158.4,603.1Z M154.0,603.0 L153.9,602.5 L154.6,602.1 L155.3,602.0 L157.3,601.7 L156.6,602.6 L156.0,603.2 L154.9,603.2Z M146.5,528.0 L147.1,528.4 L147.1,529.2 L146.2,530.2 L145.5,529.5 L145.3,529.2 L145.0,528.6 L145.8,528.4Z M180.2,629.4 L181.3,628.2 L182.2,627.9 L182.7,628.2 L183.5,629.2 L181.8,629.1Z M174.4,542.8 L175.2,543.7 L175.2,544.8 L174.5,545.5 L173.0,544.6 L172.0,543.4 L171.8,542.3 L171.9,541.3 L172.6,540.8 L174.0,541.5Z M178.7,625.2 L178.9,624.6 L179.5,623.8 L179.9,625.1 L180.4,625.6 L180.0,626.0 L179.8,627.1 L178.9,627.0 L178.8,625.9Z M178.4,609.1 L178.2,609.9 L177.7,609.6 L177.5,609.3 L176.6,608.9 L177.0,607.8 L177.9,606.8 L178.3,608.2 L179.7,608.1Z M251.9,657.9 L252.1,657.1 L252.6,657.6 L253.0,658.7 L252.4,659.5 L251.9,658.8Z M147.9,548.6 L148.8,548.1 L149.1,547.8 L149.5,548.0 L150.6,547.8 L150.3,548.6 L150.2,549.2 L149.4,549.4 L148.5,549.4Z M166.8,555.9 L166.9,556.8 L166.4,557.5 L165.7,557.2 L165.2,556.9 L164.7,556.3 L164.7,555.5 L165.4,555.5 L165.8,554.9 L166.4,555.2Z M181.2,592.6 L181.7,593.6 L182.3,594.6 L181.4,594.9 L180.7,594.9 L180.4,594.1 L180.7,593.5Z M174.7,577.1 L175.2,577.7 L176.0,578.2 L175.5,579.1 L174.7,579.6 L174.2,578.8 L173.2,578.2 L173.8,577.3Z M189.8,621.3 L190.6,621.2 L190.7,622.1 L189.7,622.6 L188.4,623.0 L187.9,621.6Z M192.8,599.0 L192.5,599.8 L192.0,600.9 L191.0,600.6 L190.8,600.0 L190.5,599.3 L191.5,598.9 L192.1,598.9Z M150.4,540.6 L149.5,540.8 L149.2,540.4 L148.7,539.8 L149.8,539.1 L151.0,538.3 L150.9,539.4 L150.9,539.8Z M160.9,528.7 L162.2,528.7 L161.9,530.0 L162.2,530.9 L161.1,531.0 L160.7,530.5 L160.0,529.8Z M212.9,635.7 L212.5,636.2 L212.4,636.4 L212.3,637.3 L211.4,637.1 L210.7,636.8 L209.9,636.2 L211.2,635.8 L211.7,635.7 L212.4,635.4Z M175.4,569.5 L174.6,570.4 L174.0,571.2 L172.7,570.7 L171.9,569.1 L172.3,568.0 L173.2,568.0 L173.9,568.7Z M160.3,523.1 L160.1,523.8 L159.4,523.2 L159.1,522.9 L157.8,522.1 L159.2,522.2 L159.5,521.6 L160.2,521.9 L160.9,522.6Z M152.3,540.9 L152.0,540.2 L152.3,539.3 L153.1,539.8 L153.6,539.7 L153.7,540.2 L153.7,540.7 L153.6,541.8 L152.7,541.4Z M192.5,624.1 L194.2,625.1 L192.7,625.9 L191.6,626.1 L190.8,625.5 L191.0,624.6Z M178.8,635.8 L179.3,635.0 L180.1,635.9 L180.7,636.4 L180.5,637.3 L181.0,639.4 L179.9,637.8 L178.8,637.4Z M159.2,530.1 L159.3,530.4 L159.0,530.4 L158.6,530.8 L158.0,530.3 L157.3,529.4 L157.8,529.0 L158.4,529.3 L158.8,529.0 L159.7,529.4Z M174.2,576.2 L175.2,575.2 L176.3,575.7 L177.0,576.0 L176.5,576.8 L175.0,577.9 L173.4,577.4Z M235.3,645.8 L236.2,645.7 L236.0,646.3 L235.8,647.2 L234.3,647.5 L234.5,646.5 L233.9,645.6Z M170.1,536.2 L170.6,537.0 L169.3,537.4 L168.5,537.1 L168.1,536.7 L168.1,536.0 L168.9,535.1 L170.2,534.9 L171.4,535.0Z M162.0,533.3 L161.6,534.0 L160.7,533.7 L161.0,532.7 L160.8,532.0 L161.5,531.8 L162.4,531.8 L162.6,532.8Z M278.3,661.1 L278.8,662.3 L277.6,663.6 L276.3,662.6 L277.0,661.0 L277.8,660.7Z M221.7,655.7 L222.6,654.7 L222.8,653.3 L223.7,654.1 L224.3,654.2 L224.5,654.9 L224.5,656.0 L223.5,656.4 L223.0,655.7Z M276.8,666.2 L275.5,666.9 L275.2,667.7 L274.4,668.6 L274.4,667.4 L274.2,666.7 L274.2,665.4 L275.1,664.9 L275.8,664.7 L276.5,665.0Z M265.2,658.8 L265.6,660.1 L265.8,660.7 L266.4,662.4 L265.3,661.1 L264.5,661.2 L263.9,659.8 L264.9,659.8Z M273.5,668.4 L273.8,666.7 L273.9,665.3 L274.9,665.9 L275.7,666.7 L274.8,667.7Z M145.6,537.0 L145.2,536.4 L145.2,535.2 L146.0,535.8 L146.3,536.1 L147.2,537.3 L146.1,537.4Z M159.8,576.9 L158.5,575.7 L157.2,575.1 L157.3,574.0 L158.8,574.1 L160.4,574.9 L160.4,576.0Z M194.2,640.4 L194.0,641.1 L193.3,641.2 L192.8,640.6 L192.7,639.9 L192.5,638.9 L193.4,639.3 L193.9,639.3 L194.2,639.8Z M168.8,572.0 L168.3,571.7 L168.6,571.2 L169.0,570.7 L169.6,570.6 L170.1,570.7 L170.1,571.2 L171.3,571.8 L170.2,572.4 L169.3,572.1Z M143.0,550.2 L142.4,551.3 L142.2,549.9 L142.2,549.0 L142.5,548.4 L142.8,547.6 L143.5,547.1 L143.6,548.7 L144.3,549.7 L143.7,550.7Z M153.1,535.9 L152.2,534.4 L153.0,533.1 L155.2,533.0 L155.3,534.1 L156.1,535.5Z M161.3,587.0 L160.3,587.5 L159.4,587.9 L159.4,586.9 L159.8,586.3 L160.8,585.9Z M217.8,643.4 L218.2,642.4 L219.6,641.4 L219.1,643.1 L219.1,643.5 L219.0,645.1 L217.8,645.1 L217.7,644.0Z M182.0,436.2 L182.3,437.1 L181.7,438.0 L180.9,437.2 L180.0,436.9 L180.8,436.5 L181.2,435.4Z M183.0,452.6 L182.0,453.0 L181.4,452.3 L180.3,451.6 L181.3,451.0 L182.1,451.2 L183.3,451.5Z M185.0,443.8 L184.2,444.3 L183.7,443.6 L183.2,443.4 L183.5,442.9 L183.5,442.0 L184.4,441.7 L185.6,441.8 L185.6,442.9Z M187.0,438.2 L186.7,437.4 L185.7,436.9 L186.0,436.1 L187.1,436.5 L187.8,435.8 L188.7,436.3 L188.3,437.1 L188.1,437.5 L188.0,438.5Z M174.8,518.7 L175.4,519.3 L175.7,519.8 L175.5,520.3 L175.2,520.7 L174.8,520.8 L174.4,520.6 L173.7,520.5 L174.4,520.0 L174.1,519.2Z M172.9,511.6 L173.6,513.5 L174.3,515.1 L173.5,516.7 L171.9,515.2 L172.2,513.0Z M174.1,522.4 L173.3,521.1 L174.8,520.9 L175.9,520.4 L175.9,521.6 L175.5,522.5Z M244.4,616.6 L244.7,618.3 L244.8,619.3 L244.6,620.2 L244.0,620.0 L243.6,619.7 L242.5,619.3 L243.2,618.1 L243.3,616.2Z M221.2,632.3 L221.4,633.3 L220.1,633.6 L219.3,633.8 L218.6,633.5 L217.7,633.0 L217.6,631.9 L219.0,631.5 L220.2,631.8Z M210.7,614.0 L209.6,614.1 L208.8,614.0 L209.5,612.7 L210.4,611.4 L210.9,612.3Z" fill="#000" stroke="#000" stroke-width="0.8" stroke-linejoin="round"/>
<g fill="#fff" stroke="#000" stroke-width="1.5" stroke-linejoin="round">
<path d="M140.0,508.0 L142.8,505.8 L146.0,504.0 L150.0,503.8 L154.0,503.0 L157.0,503.8 L160.0,504.5 L163.0,505.0 L165.0,510.0 L162.4,511.3 L160.0,513.0 L156.0,512.1 L152.0,512.0 L148.0,515.0 L145.0,514.7 L142.0,514.0Z"/>
</g><g fill="none" stroke="#000" stroke-width="1.8" stroke-linejoin="round" stroke-linecap="round">
<path d="M193.5,613.5 L196.4,613.4 L199.2,613.0 L202.1,612.5 L205.0,612.6 L208.2,612.9 L211.5,612.6 L208.6,613.7 L205.7,614.6 L203.0,616.0 L199.6,617.2 L196.0,618.0"/>
<path d="M200.7,624.3 L203.4,623.1 L206.1,621.8 L208.9,620.8 L211.4,619.1 L214.2,618.1 L217.0,617.0 L218.8,620.0 L216.2,621.6 L213.9,623.5 L211.1,624.8 L208.5,626.2 L206.0,628.0 L200.7,629.0"/>
<path d="M222.4,617.0 L226.0,615.3 L229.0,616.1 L232.0,617.0 L229.6,619.0 L230.8,621.7 L232.3,624.3 L236.8,627.0 L249.4,627.0 L250.3,629.7 L247.6,630.4 L245.0,631.5 L242.2,632.0 L238.6,632.3 L235.0,632.4 L235.5,635.2 L236.8,637.8 L239.6,639.1 L242.2,640.6 L245.4,641.2 L248.6,641.6 L251.8,642.4 L254.9,643.3 L254.9,646.0 L251.8,645.7 L248.9,644.5 L245.8,644.2 L242.6,642.6 L239.4,641.1 L236.0,640.0 L234.1,637.8 L231.8,636.1 L229.6,634.2 L228.0,630.0 L225.5,631.4 L223.3,633.3 L222.4,629.6 L221.5,626.0 L221.7,623.0 L222.5,620.0 L222.4,617.0"/>
<path d="M247.6,608.0 L249.4,611.7 L252.0,612.9 L254.9,613.5 L257.8,612.5 L260.3,610.8 L262.5,612.6"/>
<path d="M232.0,617.0 L236.8,614.4 L239.5,613.5 L242.2,612.6 L245.0,610.5 L247.6,608.0"/>
</g>
<path d="M375.5,377 L379.5,380.5 M375,397 L376.5,402" stroke="#000" stroke-width="2.6" stroke-linecap="round"/>
<path d="M276.3,557.4 L280.4,554.5 M264.7,570.7 L263,567.2 L260.7,563.7 M263,567.2 L255.5,567.8 M254.9,583.4 L251.4,584.6 L248.5,586.3 M256,595.6 L252,596.7 L245.6,596" fill="none" stroke="#000" stroke-width="1.6" stroke-linecap="round" stroke-linejoin="round"/>
<path d="M388,597.5 L392,598.8 L396,596 L400,595.5 L399,591.5 L403,589.6 L410,590.6 L416,589.6 L424,590.6 L425,593 L420,597 L416,598.5 L412,602 L406,605.5 L401,604.6 L398,607 L393,605 L389,601Z" fill="#000" stroke="#000" stroke-width="1" stroke-linejoin="round"/>
<path d="M405.5,600.3 L411.5,597.6 L417,594.8 M402,592.8 L405,593.2" fill="none" stroke="#fff" stroke-width="2" stroke-linecap="round" stroke-linejoin="round"/>
<path d="M394,602 L399,600.5" fill="none" stroke="#fff" stroke-width="1.1" stroke-linecap="round"/>
<g fill="#fff" stroke="#000" stroke-width="2.3" stroke-linejoin="round" stroke-linecap="round">
<path d="M428,593.5 L431,591.2 L436,590.3 L441,591 L443.5,594.5 L442,598.8 L437,600.6 L431.5,600 L428.5,597.5Z"/>
<path d="M442.5,592 L447,591.2 L450.5,593.5 L451,597 L447,598.8 L443,598Z"/>
<path d="M424,604 L428,601.5 M430,605.5 L434,602 M436,603.5 L440,601" fill="none" stroke-width="1.6"/>
<path d="M427.5,595 L421,601.5 L415.3,606.5 L416.3,609.4 L422.5,607.5 L421.3,605 L427.5,606.3 L426.3,603.1 L432.5,603.8 L438.8,603.1 L438,600.6" fill="none"/>
</g>
<circle cx="392.6" cy="586.2" r="1" fill="#000"/>
<path d="M329.5,650.6 L337,650 L346,649.4" stroke="#000" stroke-width="2.2" stroke-linecap="round"/>
<circle cx="171" cy="366" r="1" fill="#000"/><ellipse cx="84.6" cy="284.3" rx="2.3" ry="1.3" fill="#000"/>
<g fill="#fff" stroke="#000" stroke-width="1.2"><circle cx="613.5" cy="139.5" r="1.3"/><circle cx="608.6" cy="146.0" r="1.2"/><circle cx="607.2" cy="153.5" r="1.3"/><circle cx="610.5" cy="160.5" r="1.2"/><circle cx="608.8" cy="169.5" r="1.3"/><circle cx="611.6" cy="177.5" r="1.4"/><circle cx="610.3" cy="184.0" r="1.1"/><circle cx="605.3" cy="194.5" r="1.2"/><circle cx="620.5" cy="135.8" r="1.1"/></g>
<circle cx="156.5" cy="457" r="1.2" fill="#000"/><circle cx="149.5" cy="479" r="1.3" fill="#000"/>
<path d="M179.2,78.9 A38,37.8 0 1 0 177.8,113.1 L162.5,111.1 A23.6,23.6 0 1 1 159.7,77Z" fill="#f9b233"/>
<path d="M139.6,84.7 C145,81.5 150,79.6 155.5,79.4 C163,79.2 172,82.6 183,83.3 C187,83.4 190.5,81.8 192.8,79.2 L192.8,88.9 C190.5,91.2 187,92.2 183,92 C172,91.4 163,88 155.5,88.2 C150,88.4 145,90 139.6,93Z" fill="#2b97d4"/>
<path d="M139.6,100.7 C145,98.2 150,96.7 155.5,96.5 C163,96.3 172,99 183,99.7 C187,99.8 190.5,98.4 192.8,95.8 L192.8,105.5 C190.5,108 187,109.5 183,109.4 C172,108.8 163,104.8 155.5,104.9 C150,105 145,107 139.6,109.7Z" fill="#2b97d4"/>
<g font-size="40" text-anchor="middle" fill="#333" stroke="#fff" stroke-width="1.3">
<text transform="translate(116.5,168.3) scale(0.84,1)">S</text>
<text transform="translate(145.1,168.3) scale(1.05,1)">M</text>
<text transform="translate(175.1,168.3) scale(0.91,1)">N</text>
</g>
<g font-weight="bold" font-size="19.4" text-anchor="middle" fill="#000" stroke="#000" stroke-width="0.35">
<text x="360.2" y="16.8" textLength="268" lengthAdjust="spacingAndGlyphs">Pronóstico de Temperatura</text>
<text x="359.8" y="41.1" textLength="225" lengthAdjust="spacingAndGlyphs">Abril-Mayo-Junio 2026</text>
</g>
<g font-weight="bold" font-size="17" text-anchor="middle" fill="#000" stroke="#000" stroke-width="0.3">
<text x="552" y="270.6" textLength="130" lengthAdjust="spacingAndGlyphs">Categoría más</text>
<text x="551.5" y="292.8" textLength="79" lengthAdjust="spacingAndGlyphs">probable</text>
</g>
<rect x="518" y="316.0" width="39.6" height="22.4" fill="#cb1626" stroke="rgba(70,60,60,0.6)" stroke-width="0.9"/>
<text x="568.7" y="333.3" font-size="18.4" fill="#000" textLength="48.6" lengthAdjust="spacingAndGlyphs">&gt;55%</text>
<rect x="518" y="350.0" width="39.6" height="22.4" fill="#e04a52" stroke="rgba(70,60,60,0.6)" stroke-width="0.9"/>
<text x="568.7" y="367.3" font-size="18.4" fill="#000" textLength="62.3" lengthAdjust="spacingAndGlyphs">50-55%</text>
<rect x="518" y="383.9" width="39.6" height="22.4" fill="#f08c6e" stroke="rgba(70,60,60,0.6)" stroke-width="0.9"/>
<text x="568.7" y="401.2" font-size="18.4" fill="#000" textLength="62.3" lengthAdjust="spacingAndGlyphs">45-50%</text>
<rect x="518" y="417.9" width="39.6" height="22.4" fill="#f5c3ad" stroke="rgba(70,60,60,0.6)" stroke-width="0.9"/>
<text x="568.7" y="435.2" font-size="18.4" fill="#000" textLength="62.3" lengthAdjust="spacingAndGlyphs">40-45%</text>
<rect x="518" y="451.9" width="39.6" height="22.4" fill="#cccccc" stroke="rgba(70,60,60,0.6)" stroke-width="0.9"/>
<text x="568.7" y="469.2" font-size="18.4" fill="#000" textLength="62.3" lengthAdjust="spacingAndGlyphs">&gt;=40%</text>
<rect x="518" y="485.9" width="39.6" height="22.4" fill="#b8d8ea" stroke="rgba(70,60,60,0.6)" stroke-width="0.9"/>
<text x="568.7" y="503.2" font-size="18.4" fill="#000" textLength="62.3" lengthAdjust="spacingAndGlyphs">40-45%</text>
<rect x="518" y="519.8" width="39.6" height="22.4" fill="#88bfe0" stroke="rgba(70,60,60,0.6)" stroke-width="0.9"/>
<text x="568.7" y="537.1" font-size="18.4" fill="#000" textLength="62.3" lengthAdjust="spacingAndGlyphs">45-50%</text>
<rect x="518" y="553.8" width="39.6" height="22.4" fill="#4394c8" stroke="rgba(70,60,60,0.6)" stroke-width="0.9"/>
<text x="568.7" y="571.1" font-size="18.4" fill="#000" textLength="62.3" lengthAdjust="spacingAndGlyphs">50-55%</text>
<rect x="518" y="587.8" width="39.6" height="22.4" fill="#1a70b2" stroke="rgba(70,60,60,0.6)" stroke-width="0.9"/>
<text x="568.7" y="605.1" font-size="18.4" fill="#000" textLength="48.6" lengthAdjust="spacingAndGlyphs">&gt;55%</text>
<g font-size="14.4" text-anchor="middle" fill="#000">
<text x="442" y="405.5" textLength="87.8" lengthAdjust="spacingAndGlyphs">SUPERIOR A</text>
<text x="442" y="425" textLength="83" lengthAdjust="spacingAndGlyphs">LA NORMAL</text>
<text x="442" y="472.5" textLength="61" lengthAdjust="spacingAndGlyphs">NORMAL</text>
<text x="439.8" y="545" textLength="84" lengthAdjust="spacingAndGlyphs">INFERIOR A</text>
<text x="439.8" y="564.4" textLength="83" lengthAdjust="spacingAndGlyphs">LA NORMAL</text>
</g>
<g font-size="14.6" font-style="italic" text-anchor="middle" fill="#000">
<text x="509.4" y="643.6" textLength="216" lengthAdjust="spacingAndGlyphs">Blanco: igual probabilidad para</text>
<text x="509.6" y="662.5" textLength="229.5" lengthAdjust="spacingAndGlyphs">las tres categorías (Climatología)</text>
</g>
</svg>
</body></html>
